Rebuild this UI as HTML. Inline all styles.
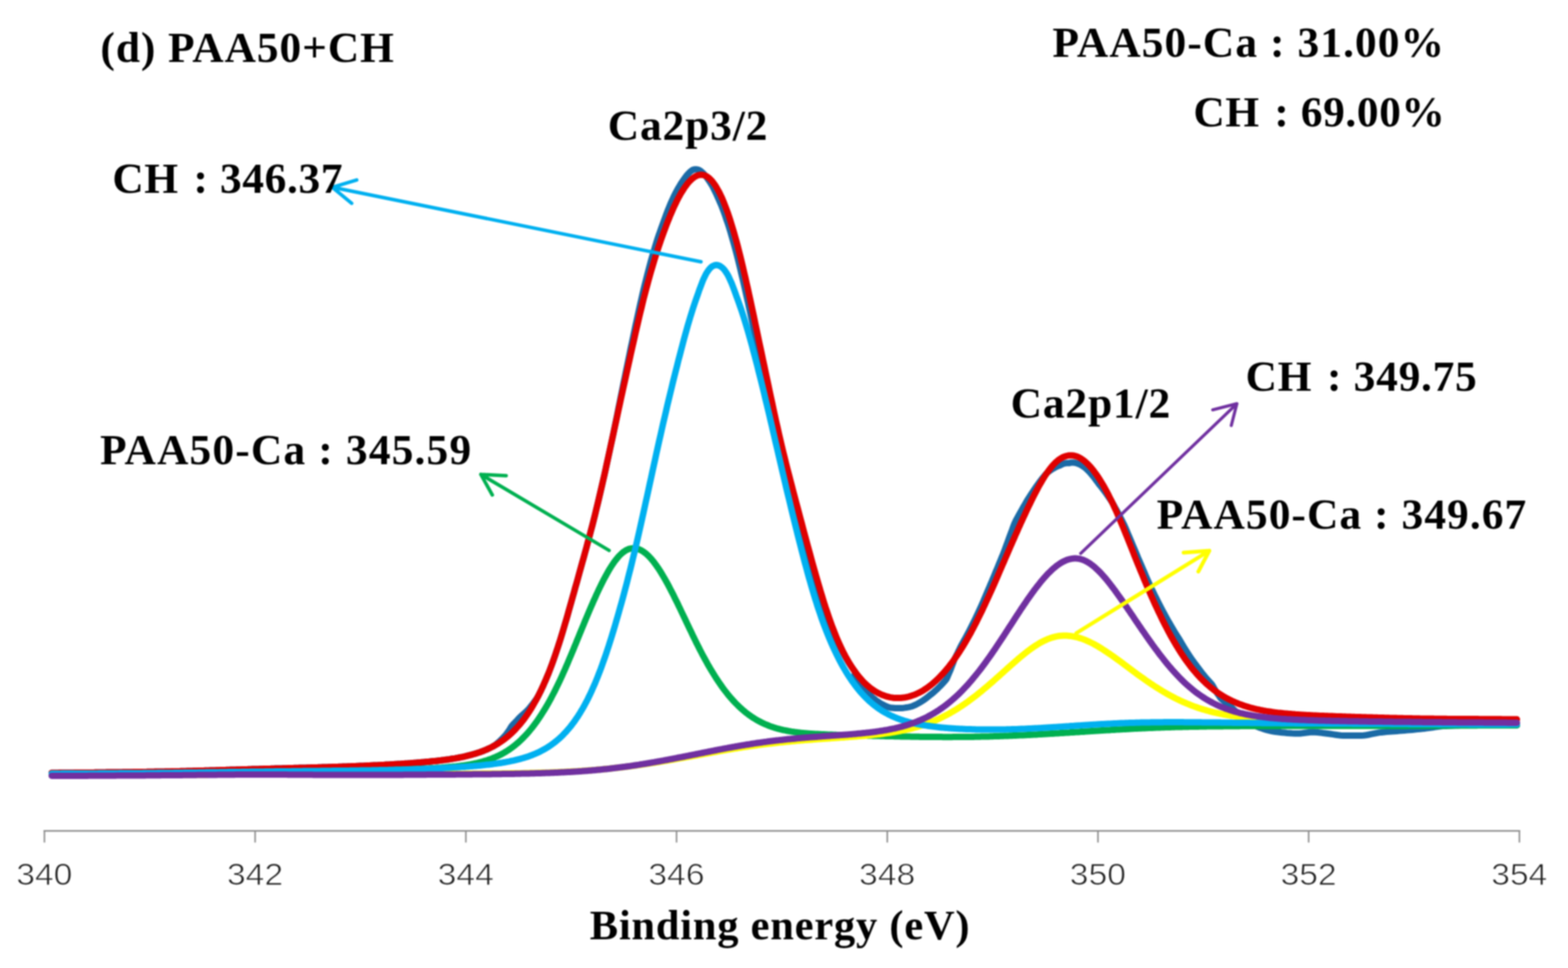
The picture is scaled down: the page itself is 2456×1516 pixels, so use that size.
<!DOCTYPE html>
<html><head><meta charset="utf-8"><title>XPS Ca2p PAA50+CH</title>
<style>html,body{margin:0;padding:0;background:#fff;overflow:hidden;}svg{display:block;filter:blur(0.9px);}</style></head>
<body><svg width="2456" height="1516" viewBox="0 0 2456 1516">
<rect width="2456" height="1516" fill="#ffffff"/>
<g fill="none" stroke-width="10" stroke-linecap="round" stroke-linejoin="round">
<path d="M81.0,1210.4 L83.0,1210.4 L85.0,1210.4 L87.0,1210.4 L89.0,1210.4 L91.0,1210.4 L93.0,1210.3 L95.0,1210.3 L97.0,1210.3 L99.0,1210.3 L101.0,1210.3 L103.0,1210.3 L105.0,1210.2 L107.0,1210.2 L109.0,1210.2 L111.0,1210.2 L113.0,1210.2 L115.0,1210.2 L117.0,1210.1 L119.0,1210.1 L121.0,1210.1 L123.0,1210.1 L125.0,1210.1 L127.0,1210.1 L129.0,1210.0 L131.0,1210.0 L133.0,1210.0 L135.0,1210.0 L137.0,1210.0 L139.0,1209.9 L141.0,1209.9 L143.0,1209.9 L145.0,1209.9 L147.0,1209.9 L149.0,1209.8 L151.0,1209.8 L153.0,1209.8 L155.0,1209.8 L157.0,1209.8 L159.0,1209.7 L161.0,1209.7 L163.0,1209.7 L165.0,1209.7 L167.0,1209.6 L169.0,1209.6 L171.0,1209.6 L173.0,1209.6 L175.0,1209.6 L177.0,1209.5 L179.0,1209.5 L181.0,1209.5 L183.0,1209.5 L185.0,1209.4 L187.0,1209.4 L189.0,1209.4 L191.0,1209.4 L193.0,1209.3 L195.0,1209.3 L197.0,1209.3 L199.0,1209.3 L201.0,1209.2 L203.0,1209.2 L205.0,1209.2 L207.0,1209.2 L209.0,1209.1 L211.0,1209.1 L213.0,1209.1 L215.0,1209.1 L217.0,1209.0 L219.0,1209.0 L221.0,1209.0 L223.0,1208.9 L225.0,1208.9 L227.0,1208.9 L229.0,1208.9 L231.0,1208.8 L233.0,1208.8 L235.0,1208.8 L237.0,1208.7 L239.0,1208.7 L241.0,1208.7 L243.0,1208.6 L245.0,1208.6 L247.0,1208.6 L249.0,1208.5 L251.0,1208.5 L253.0,1208.5 L255.0,1208.4 L257.0,1208.4 L259.0,1208.3 L261.0,1208.3 L263.0,1208.3 L265.0,1208.2 L267.0,1208.2 L269.0,1208.1 L271.0,1208.1 L273.0,1208.1 L275.0,1208.0 L277.0,1208.0 L279.0,1207.9 L281.0,1207.9 L283.0,1207.8 L285.0,1207.8 L287.0,1207.7 L289.0,1207.7 L291.0,1207.7 L293.0,1207.6 L295.0,1207.6 L297.0,1207.5 L299.0,1207.4 L301.0,1207.4 L303.0,1207.3 L305.0,1207.3 L307.0,1207.2 L309.0,1207.2 L311.0,1207.1 L313.0,1207.1 L315.0,1207.0 L317.0,1207.0 L319.0,1206.9 L321.0,1206.8 L323.0,1206.8 L325.0,1206.7 L327.0,1206.7 L329.0,1206.6 L331.0,1206.6 L333.0,1206.5 L335.0,1206.4 L337.0,1206.4 L339.0,1206.3 L341.0,1206.3 L343.0,1206.2 L345.0,1206.1 L347.0,1206.1 L349.0,1206.0 L351.0,1205.9 L353.0,1205.9 L355.0,1205.8 L357.0,1205.8 L359.0,1205.7 L361.0,1205.6 L363.0,1205.6 L365.0,1205.5 L367.0,1205.5 L369.0,1205.4 L371.0,1205.3 L373.0,1205.3 L375.0,1205.2 L377.0,1205.2 L379.0,1205.1 L381.0,1205.0 L383.0,1205.0 L385.0,1204.9 L387.0,1204.9 L389.0,1204.8 L391.0,1204.8 L393.0,1204.7 L395.0,1204.6 L397.0,1204.6 L399.0,1204.5 L401.0,1204.5 L403.0,1204.4 L405.0,1204.4 L407.0,1204.3 L409.0,1204.2 L411.0,1204.2 L413.0,1204.1 L415.0,1204.1 L417.0,1204.0 L419.0,1204.0 L421.0,1203.9 L423.0,1203.9 L425.0,1203.8 L427.0,1203.8 L429.0,1203.7 L431.0,1203.6 L433.0,1203.6 L435.0,1203.5 L437.0,1203.5 L439.0,1203.4 L441.0,1203.4 L443.0,1203.3 L445.0,1203.3 L447.0,1203.2 L449.0,1203.2 L451.0,1203.1 L453.0,1203.1 L455.0,1203.0 L457.0,1203.0 L459.0,1202.9 L461.0,1202.8 L463.0,1202.8 L465.0,1202.7 L467.0,1202.7 L469.0,1202.6 L471.0,1202.6 L473.0,1202.5 L475.0,1202.5 L477.0,1202.4 L479.0,1202.4 L481.0,1202.3 L483.0,1202.3 L485.0,1202.2 L487.0,1202.1 L489.0,1202.1 L491.0,1202.0 L493.0,1202.0 L495.0,1201.9 L496.9,1201.9 L498.9,1201.8 L500.9,1201.7 L502.9,1201.7 L504.9,1201.6 L506.9,1201.6 L508.9,1201.5 L510.9,1201.4 L512.9,1201.4 L514.9,1201.3 L516.9,1201.3 L518.9,1201.2 L520.9,1201.1 L522.9,1201.1 L524.9,1201.0 L526.9,1200.9 L528.9,1200.9 L530.9,1200.8 L532.9,1200.7 L534.9,1200.7 L536.9,1200.6 L538.9,1200.5 L540.9,1200.5 L542.9,1200.4 L544.9,1200.3 L546.9,1200.2 L548.9,1200.2 L550.9,1200.1 L552.9,1200.0 L554.9,1199.9 L556.9,1199.9 L558.9,1199.8 L560.9,1199.7 L562.9,1199.6 L564.9,1199.5 L566.9,1199.4 L568.9,1199.4 L570.9,1199.3 L572.9,1199.2 L574.9,1199.1 L576.9,1199.0 L578.9,1198.9 L580.9,1198.8 L582.9,1198.7 L584.9,1198.6 L586.9,1198.6 L588.9,1198.5 L590.9,1198.4 L592.9,1198.3 L594.9,1198.2 L596.9,1198.1 L598.9,1198.0 L600.9,1197.9 L602.9,1197.7 L604.9,1197.6 L606.9,1197.5 L608.9,1197.4 L610.9,1197.3 L612.9,1197.2 L614.9,1197.1 L616.9,1197.0 L618.9,1196.8 L620.9,1196.7 L622.9,1196.6 L624.9,1196.5 L626.9,1196.4 L628.9,1196.2 L630.9,1196.1 L632.9,1196.0 L634.9,1195.8 L636.9,1195.7 L638.9,1195.6 L640.9,1195.4 L642.9,1195.3 L644.9,1195.1 L646.9,1195.0 L648.9,1194.8 L650.9,1194.7 L652.9,1194.5 L654.9,1194.3 L656.9,1194.2 L658.9,1194.0 L660.9,1193.8 L662.9,1193.7 L664.9,1193.5 L666.9,1193.3 L668.9,1193.1 L670.9,1192.9 L672.9,1192.7 L674.9,1192.5 L676.9,1192.3 L678.9,1192.1 L680.9,1191.9 L682.9,1191.7 L684.9,1191.5 L686.9,1191.2 L689.0,1191.0 L691.0,1190.8 L693.0,1190.5 L695.0,1190.3 L697.0,1190.0 L699.0,1189.7 L701.0,1189.4 L703.0,1189.2 L705.0,1188.9 L707.0,1188.5 L709.0,1188.2 L711.0,1187.9 L713.0,1187.6 L715.0,1187.2 L717.0,1186.9 L719.0,1186.5 L721.0,1186.1 L723.0,1185.7 L725.0,1185.3 L727.0,1184.8 L729.0,1184.4 L731.0,1183.9 L733.0,1183.4 L735.0,1182.9 L737.0,1182.4 L739.0,1181.9 L741.0,1181.3 L743.0,1180.7 L745.0,1180.1 L747.0,1179.5 L749.0,1178.8 L751.0,1178.2 L753.0,1177.5 L755.0,1176.7 L757.0,1176.0 L759.0,1175.2 L761.0,1174.3 L763.0,1173.5 L765.0,1172.5 L767.0,1171.6 L769.0,1170.6 L771.0,1169.6 L773.0,1168.5 L775.0,1167.4 L776.8,1165.9 L778.6,1164.4 L780.4,1162.8 L782.2,1161.2 L783.9,1159.6 L785.6,1157.8 L787.4,1156.1 L789.1,1154.3 L790.8,1152.4 L792.5,1150.5 L794.0,1148.4 L795.6,1146.2 L797.1,1144.0 L798.6,1141.7 L800.0,1139.4 L801.5,1137.0 L803.3,1134.9 L805.3,1132.9 L807.3,1130.8 L809.4,1128.6 L811.4,1126.4 L813.5,1124.0 L815.8,1121.8 L818.4,1119.6 L821.0,1117.3 L823.6,1114.9 L826.2,1112.4 L828.7,1109.7 L831.1,1106.7 L833.5,1103.7 L835.9,1100.5 L838.3,1097.2 L840.7,1093.8 L842.9,1090.2 L844.9,1086.3 L846.9,1082.3 L848.8,1078.2 L850.8,1074.0 L852.7,1069.6 L854.7,1065.1 L856.6,1060.5 L858.6,1055.8 L860.5,1051.0 L862.4,1046.0 L864.3,1040.9 L866.2,1035.7 L868.1,1030.3 L870.0,1024.9 L871.9,1019.2 L873.8,1013.5 L875.7,1007.6 L877.6,1001.7 L879.5,995.5 L881.4,989.3 L883.3,982.9 L885.2,976.4 L887.2,969.8 L889.1,963.1 L891.0,956.2 L893.0,949.2 L895.0,942.1 L897.0,934.9 L899.1,927.6 L901.1,920.1 L903.3,912.6 L905.4,905.0 L907.5,897.2 L909.7,889.3 L911.9,881.4 L914.2,873.3 L916.4,865.2 L918.7,857.0 L920.9,848.6 L923.2,840.2 L925.4,831.7 L927.7,823.1 L929.9,814.4 L932.1,805.7 L934.2,796.9 L936.4,788.0 L938.5,779.0 L940.6,770.0 L942.7,761.0 L944.8,751.9 L946.9,742.8 L948.9,733.6 L950.9,724.4 L952.9,715.2 L954.9,706.0 L956.9,696.8 L958.9,687.6 L960.9,678.1 L962.9,668.3 L964.9,658.5 L966.9,648.7 L968.8,638.9 L970.8,629.2 L972.7,619.6 L974.7,610.0 L976.6,600.5 L978.6,591.0 L980.5,581.6 L982.4,572.4 L984.3,563.2 L986.2,554.1 L988.0,545.1 L989.9,536.2 L991.8,527.4 L993.6,518.7 L995.4,510.1 L997.3,501.7 L999.1,493.3 L1000.9,485.0 L1002.7,476.8 L1004.6,468.7 L1006.4,460.7 L1008.2,452.9 L1010.1,445.2 L1012.0,437.6 L1013.9,430.2 L1015.8,422.9 L1017.7,415.7 L1019.6,408.6 L1021.6,401.7 L1023.6,394.9 L1025.5,388.3 L1027.5,381.7 L1029.5,375.3 L1031.5,369.2 L1033.6,363.4 L1035.6,357.6 L1037.6,352.1 L1039.6,346.6 L1041.7,341.0 L1043.7,335.5 L1045.7,330.2 L1047.8,325.0 L1049.8,320.0 L1051.9,315.4 L1053.9,311.0 L1055.9,306.7 L1058.0,302.6 L1060.0,298.7 L1062.1,295.0 L1064.2,291.4 L1066.2,288.1 L1068.3,284.9 L1070.4,281.9 L1072.4,279.0 L1074.5,276.2 L1076.5,273.7 L1078.6,271.5 L1080.6,269.4 L1082.7,267.7 L1084.7,266.2 L1086.8,265.5 L1088.8,265.3 L1090.8,265.3 L1092.9,265.6 L1094.9,266.2 L1097.0,267.5 L1099.0,269.1 L1101.1,271.0 L1103.1,273.1 L1105.2,275.5 L1107.2,278.2 L1109.2,281.1 L1111.3,284.1 L1113.3,287.3 L1115.4,290.7 L1117.4,294.4 L1119.4,298.4 L1121.5,302.7 L1123.5,307.2 L1125.6,311.8 L1127.6,316.5 L1129.7,321.3 L1131.7,326.5 L1133.7,331.8 L1135.7,337.4 L1137.7,343.3 L1139.8,349.3 L1141.8,355.6 L1143.8,362.0 L1145.7,368.7 L1147.7,375.6 L1149.7,382.7 L1151.7,390.0 L1153.7,397.6 L1155.7,405.3 L1157.6,413.2 L1159.6,421.3 L1161.5,429.5 L1163.5,437.8 L1165.4,446.2 L1167.4,454.8 L1169.3,463.5 L1171.3,472.2 L1173.2,481.0 L1175.2,489.9 L1177.1,498.9 L1179.1,508.0 L1181.1,517.0 L1183.0,526.2 L1185.0,535.4 L1187.0,544.6 L1189.0,553.9 L1191.1,563.3 L1193.1,572.7 L1195.1,582.2 L1197.2,591.6 L1199.2,601.1 L1201.3,610.6 L1203.4,620.1 L1205.4,629.5 L1207.5,639.0 L1209.6,648.3 L1211.6,657.7 L1213.7,666.9 L1215.8,676.1 L1218.0,685.2 L1220.1,694.2 L1222.3,703.2 L1224.5,712.0 L1226.7,720.9 L1229.0,729.7 L1231.2,738.4 L1233.5,747.2 L1235.9,755.9 L1238.2,764.5 L1240.5,773.0 L1242.7,781.6 L1245.0,790.0 L1247.2,798.3 L1249.5,806.6 L1251.7,814.7 L1253.8,822.8 L1256.0,830.7 L1258.1,838.5 L1260.2,846.2 L1262.3,853.7 L1264.3,861.2 L1266.4,868.5 L1268.4,875.6 L1270.4,882.7 L1272.3,889.6 L1274.3,896.4 L1276.2,903.1 L1278.1,909.6 L1280.0,916.0 L1281.9,922.3 L1283.8,928.4 L1285.6,934.4 L1287.5,940.3 L1289.3,946.0 L1291.1,951.6 L1292.9,957.0 L1294.8,962.4 L1296.6,967.6 L1298.4,972.6 L1300.2,977.5 L1302.0,982.2 L1303.8,986.7 L1305.7,991.1 L1307.5,995.4 L1309.3,999.5 L1311.1,1003.6 L1313.0,1007.6 L1314.8,1011.4 L1316.7,1015.1 L1318.5,1018.8 L1320.4,1022.3 L1322.3,1025.7 L1324.1,1029.0 L1326.0,1032.2 L1327.9,1035.3 L1329.8,1038.4 L1331.7,1041.3 L1333.6,1044.1 L1335.5,1046.8 L1337.4,1049.5 L1339.3,1052.0 L1338.6,1056.5 L1340.2,1059.3 L1341.8,1062.1 L1343.4,1064.7 L1345.1,1067.3 L1346.8,1069.8 L1348.5,1072.2 L1350.2,1074.6 L1352.0,1076.9 L1353.8,1079.1 L1355.6,1081.3 L1357.4,1083.4 L1359.3,1085.4 L1361.2,1087.4 L1363.1,1089.2 L1365.1,1091.1 L1367.1,1092.8 L1369.2,1094.5 L1371.3,1096.2 L1373.4,1097.7 L1375.6,1099.2 L1377.8,1100.7 L1380.0,1102.0 L1382.3,1103.3 L1384.6,1104.5 L1387.0,1105.7 L1389.4,1106.7 L1391.8,1107.7 L1394.4,1108.2 L1396.9,1108.6 L1399.5,1108.8 L1402.0,1109.0 L1404.6,1109.1 L1407.2,1109.1 L1409.7,1109.1 L1412.2,1108.9 L1414.8,1108.7 L1417.3,1108.4 L1419.8,1108.0 L1422.3,1107.6 L1424.8,1107.1 L1427.3,1106.5 L1429.8,1105.7 L1432.1,1104.7 L1434.5,1103.6 L1436.8,1102.4 L1439.0,1101.2 L1441.3,1099.9 L1443.5,1098.5 L1445.7,1097.1 L1447.8,1095.6 L1450.0,1094.1 L1452.1,1092.5 L1454.1,1090.8 L1456.2,1089.1 L1458.3,1087.5 L1460.4,1085.8 L1462.5,1084.1 L1464.5,1082.3 L1466.6,1080.4 L1468.6,1078.5 L1470.6,1076.5 L1472.7,1074.5 L1474.7,1072.4 L1476.6,1070.3 L1478.6,1068.1 L1480.6,1065.9 L1482.5,1063.5 L1483.8,1060.6 L1485.1,1057.6 L1486.4,1054.6 L1487.7,1051.6 L1489.0,1048.5 L1490.2,1045.3 L1491.4,1042.1 L1492.6,1038.9 L1493.8,1035.6 L1495.0,1032.3 L1496.6,1029.2 L1498.2,1026.1 L1499.8,1022.9 L1501.3,1019.7 L1502.9,1016.4 L1504.5,1013.0 L1506.2,1009.7 L1508.1,1006.4 L1510.0,1003.0 L1511.9,999.6 L1513.8,996.2 L1515.7,992.6 L1517.6,989.0 L1519.5,985.3 L1521.4,981.6 L1523.3,977.8 L1525.2,974.0 L1527.1,970.1 L1529.0,966.1 L1530.9,962.1 L1532.8,958.0 L1534.7,953.9 L1536.6,949.7 L1538.5,945.4 L1540.4,941.2 L1542.2,936.8 L1544.1,932.4 L1546.0,928.0 L1547.9,923.6 L1549.8,919.1 L1551.7,914.5 L1553.7,910.0 L1555.6,905.4 L1557.5,900.8 L1559.4,896.1 L1561.4,891.5 L1563.3,886.8 L1565.2,882.1 L1567.2,877.3 L1569.1,872.6 L1571.1,867.9 L1573.0,863.1 L1574.7,858.3 L1576.5,853.5 L1578.3,848.6 L1580.0,843.8 L1581.8,839.0 L1583.6,834.2 L1585.4,829.5 L1587.1,824.7 L1588.9,820.0 L1591.0,815.5 L1593.4,811.1 L1595.8,806.8 L1598.2,802.5 L1600.5,798.3 L1602.9,794.1 L1605.3,790.0 L1607.6,785.9 L1610.0,781.9 L1612.4,778.1 L1614.9,774.3 L1617.3,770.6 L1619.7,767.0 L1622.1,763.4 L1624.6,760.0 L1627.0,756.7 L1629.3,753.5 L1631.7,750.4 L1634.1,747.4 L1636.4,744.6 L1638.8,741.9 L1641.3,739.5 L1644.1,737.4 L1646.9,735.5 L1649.6,733.8 L1652.2,732.3 L1654.8,731.0 L1657.4,729.9 L1659.9,729.0 L1661.9,728.0 L1663.8,727.0 L1665.7,726.3 L1667.5,725.8 L1669.1,725.4 L1670.7,725.3 L1672.2,725.2 L1673.6,725.3 L1674.8,725.3 L1675.9,724.9 L1677.1,724.6 L1678.3,724.4 L1679.5,724.4 L1680.9,724.4 L1682.3,724.5 L1683.8,724.8 L1685.4,725.3 L1687.2,725.8 L1689.1,726.4 L1691.1,727.3 L1693.1,728.3 L1695.3,729.6 L1697.4,731.0 L1699.7,732.6 L1701.8,734.6 L1704.0,736.7 L1706.1,738.9 L1708.3,741.3 L1710.5,743.9 L1712.7,746.6 L1714.9,749.5 L1717.1,752.5 L1719.4,755.6 L1721.7,758.8 L1724.3,761.9 L1726.9,765.2 L1729.4,768.6 L1732.0,772.1 L1734.6,775.7 L1737.1,779.4 L1739.7,783.2 L1742.2,787.1 L1744.5,791.2 L1746.8,795.4 L1749.2,799.6 L1751.5,803.8 L1753.7,808.2 L1756.0,812.5 L1758.3,817.0 L1760.5,821.4 L1762.6,826.0 L1764.6,830.7 L1766.5,835.3 L1768.5,840.0 L1770.5,844.7 L1772.5,849.4 L1774.4,854.1 L1776.4,858.8 L1778.4,863.5 L1780.4,868.2 L1782.3,872.9 L1784.3,877.5 L1786.3,882.2 L1788.3,886.8 L1790.3,891.5 L1792.3,896.1 L1794.2,900.6 L1796.2,905.2 L1798.2,909.7 L1800.2,914.2 L1802.2,918.6 L1804.2,923.0 L1806.3,927.3 L1808.4,931.6 L1810.5,935.8 L1812.6,940.0 L1814.7,944.2 L1816.8,948.3 L1818.9,952.3 L1821.0,956.3 L1823.1,960.2 L1825.2,964.1 L1827.3,967.9 L1829.4,971.6 L1831.5,975.3 L1833.6,979.0 L1835.7,982.6 L1837.8,986.1 L1839.8,989.5 L1841.9,992.9 L1844.0,996.2 L1846.1,999.5 L1848.1,1002.7 L1850.0,1005.9 L1851.8,1009.1 L1853.7,1012.2 L1855.5,1015.3 L1857.4,1018.3 L1859.3,1021.2 L1861.1,1024.1 L1863.0,1026.9 L1864.8,1029.7 L1866.7,1032.4 L1868.6,1035.0 L1870.4,1037.5 L1872.3,1040.0 L1874.2,1042.5 L1876.0,1044.9 L1877.8,1047.3 L1879.5,1049.7 L1881.3,1052.0 L1883.0,1054.3 L1884.8,1056.5 L1886.6,1058.7 L1888.3,1060.8 L1890.1,1062.8 L1891.9,1064.8 L1893.7,1066.8 L1895.4,1068.7 L1897.2,1070.6 L1898.8,1072.7 L1900.2,1075.1 L1901.5,1077.5 L1902.9,1079.8 L1904.3,1082.1 L1905.7,1084.4 L1907.2,1086.6 L1908.7,1088.8 L1910.2,1091.0 L1911.8,1093.2 L1913.5,1095.0 L1915.4,1096.6 L1917.3,1098.1 L1919.2,1099.6 L1921.1,1101.1 L1923.1,1102.5 L1925.0,1103.9 L1928.0,1106.7 L1932.0,1110.8 L1936.0,1114.7 L1940.0,1118.4 L1944.0,1121.8 L1948.0,1125.1 L1952.0,1128.1 L1956.0,1130.9 L1960.0,1133.4 L1964.0,1135.6 L1968.0,1137.6 L1972.0,1139.2 L1976.0,1140.6 L1980.0,1141.9 L1984.0,1143.1 L1988.0,1144.1 L1992.0,1145.0 L1996.0,1145.7 L2000.0,1146.3 L2004.0,1146.8 L2008.0,1147.2 L2012.0,1147.6 L2016.0,1148.0 L2020.0,1148.3 L2024.0,1148.6 L2028.0,1148.7 L2032.0,1148.8 L2036.0,1148.7 L2040.0,1148.3 L2044.0,1147.8 L2048.0,1147.3 L2052.0,1146.8 L2056.0,1146.6 L2060.0,1146.7 L2064.0,1147.0 L2068.0,1147.4 L2072.0,1148.0 L2076.0,1148.5 L2080.0,1149.0 L2084.0,1149.5 L2088.0,1150.1 L2092.0,1150.7 L2096.0,1151.3 L2100.0,1151.7 L2104.0,1152.0 L2108.0,1152.0 L2112.0,1152.0 L2116.0,1152.0 L2120.0,1152.0 L2124.0,1152.0 L2128.0,1152.0 L2132.0,1152.0 L2136.0,1151.7 L2140.0,1151.2 L2144.0,1150.5 L2148.0,1149.7 L2152.0,1148.9 L2156.0,1148.1 L2160.0,1147.4 L2164.0,1146.9 L2168.0,1146.5 L2172.0,1146.1 L2176.0,1145.8 L2180.0,1145.5 L2184.0,1145.2 L2188.0,1144.9 L2192.0,1144.6 L2196.0,1144.2 L2200.0,1143.9 L2204.0,1143.6 L2208.0,1143.2 L2212.0,1142.9 L2216.0,1142.5 L2220.0,1142.1 L2224.0,1141.7 L2228.0,1141.3 L2232.0,1140.9 L2236.0,1140.4 L2240.0,1139.8 L2244.0,1139.2 L2248.0,1138.6 L2252.0,1138.0 L2256.0,1137.5 L2260.0,1137.1 L2264.0,1136.9 L2268.0,1136.7 L2272.0,1136.6 L2276.0,1136.4 L2280.0,1136.3 L2284.0,1136.2 L2288.0,1136.1 L2292.0,1136.1 L2296.0,1136.0 L2300.0,1136.0 L2304.0,1136.0 L2308.0,1136.0 L2312.0,1136.0 L2316.0,1136.0 L2320.0,1136.0 L2324.0,1136.0 L2328.0,1136.0 L2332.0,1136.0 L2336.0,1136.0 L2340.0,1136.0 L2344.0,1136.0 L2348.0,1136.0 L2352.0,1136.0 L2356.0,1136.0 L2360.0,1136.0 L2364.0,1136.0 L2368.0,1136.0 L2372.0,1136.0 L2376.0,1136.0" stroke="#1a6aa6"/>
<path d="M81.0,1210.4 L83.0,1210.4 L85.0,1210.4 L87.0,1210.4 L89.0,1210.4 L91.0,1210.4 L93.0,1210.3 L95.0,1210.3 L97.0,1210.3 L99.0,1210.3 L101.0,1210.3 L103.0,1210.3 L105.0,1210.2 L107.0,1210.2 L109.0,1210.2 L111.0,1210.2 L113.0,1210.2 L115.0,1210.2 L117.0,1210.1 L119.0,1210.1 L121.0,1210.1 L123.0,1210.1 L125.0,1210.1 L127.0,1210.1 L129.0,1210.0 L131.0,1210.0 L133.0,1210.0 L135.0,1210.0 L137.0,1210.0 L139.0,1209.9 L141.0,1209.9 L143.0,1209.9 L145.0,1209.9 L147.0,1209.9 L149.0,1209.8 L151.0,1209.8 L153.0,1209.8 L155.0,1209.8 L157.0,1209.8 L159.0,1209.7 L161.0,1209.7 L163.0,1209.7 L165.0,1209.7 L167.0,1209.6 L169.0,1209.6 L171.0,1209.6 L173.0,1209.6 L175.0,1209.6 L177.0,1209.5 L179.0,1209.5 L181.0,1209.5 L183.0,1209.5 L185.0,1209.4 L187.0,1209.4 L189.0,1209.4 L191.0,1209.4 L193.0,1209.3 L195.0,1209.3 L197.0,1209.3 L199.0,1209.3 L201.0,1209.2 L203.0,1209.2 L205.0,1209.2 L207.0,1209.2 L209.0,1209.1 L211.0,1209.1 L213.0,1209.1 L215.0,1209.1 L217.0,1209.0 L219.0,1209.0 L221.0,1209.0 L223.0,1208.9 L225.0,1208.9 L227.0,1208.9 L229.0,1208.9 L231.0,1208.8 L233.0,1208.8 L235.0,1208.8 L237.0,1208.7 L239.0,1208.7 L241.0,1208.7 L243.0,1208.6 L245.0,1208.6 L247.0,1208.6 L249.0,1208.5 L251.0,1208.5 L253.0,1208.5 L255.0,1208.4 L257.0,1208.4 L259.0,1208.3 L261.0,1208.3 L263.0,1208.3 L265.0,1208.2 L267.0,1208.2 L269.0,1208.1 L271.0,1208.1 L273.0,1208.1 L275.0,1208.0 L277.0,1208.0 L279.0,1207.9 L281.0,1207.9 L283.0,1207.8 L285.0,1207.8 L287.0,1207.7 L289.0,1207.7 L291.0,1207.7 L293.0,1207.6 L295.0,1207.6 L297.0,1207.5 L299.0,1207.4 L301.0,1207.4 L303.0,1207.3 L305.0,1207.3 L307.0,1207.2 L309.0,1207.2 L311.0,1207.1 L313.0,1207.1 L315.0,1207.0 L317.0,1207.0 L319.0,1206.9 L321.0,1206.8 L323.0,1206.8 L325.0,1206.7 L327.0,1206.7 L329.0,1206.6 L331.0,1206.6 L333.0,1206.5 L335.0,1206.4 L337.0,1206.4 L339.0,1206.3 L341.0,1206.3 L343.0,1206.2 L345.0,1206.1 L347.0,1206.1 L349.0,1206.0 L351.0,1205.9 L353.0,1205.9 L355.0,1205.8 L357.0,1205.8 L359.0,1205.7 L361.0,1205.6 L363.0,1205.6 L365.0,1205.5 L367.0,1205.5 L369.0,1205.4 L371.0,1205.3 L373.0,1205.3 L375.0,1205.2 L377.0,1205.2 L379.0,1205.1 L381.0,1205.0 L383.0,1205.0 L385.0,1204.9 L387.0,1204.9 L389.0,1204.8 L391.0,1204.8 L393.0,1204.7 L395.0,1204.6 L397.0,1204.6 L399.0,1204.5 L401.0,1204.5 L403.0,1204.4 L405.0,1204.4 L407.0,1204.3 L409.0,1204.2 L411.0,1204.2 L413.0,1204.1 L415.0,1204.1 L417.0,1204.0 L419.0,1204.0 L421.0,1203.9 L423.0,1203.9 L425.0,1203.8 L427.0,1203.8 L429.0,1203.7 L431.0,1203.6 L433.0,1203.6 L435.0,1203.5 L437.0,1203.5 L439.0,1203.4 L441.0,1203.4 L443.0,1203.3 L445.0,1203.3 L447.0,1203.2 L449.0,1203.2 L451.0,1203.1 L453.0,1203.1 L455.0,1203.0 L457.0,1203.0 L459.0,1202.9 L461.0,1202.8 L463.0,1202.8 L465.0,1202.7 L467.0,1202.7 L469.0,1202.6 L471.0,1202.6 L473.0,1202.5 L475.0,1202.5 L477.0,1202.4 L479.0,1202.4 L481.0,1202.3 L483.0,1202.3 L485.0,1202.2 L487.0,1202.1 L489.0,1202.1 L491.0,1202.0 L493.0,1202.0 L495.0,1201.9 L496.9,1201.9 L498.9,1201.8 L500.9,1201.7 L502.9,1201.7 L504.9,1201.6 L506.9,1201.6 L508.9,1201.5 L510.9,1201.4 L512.9,1201.4 L514.9,1201.3 L516.9,1201.3 L518.9,1201.2 L520.9,1201.1 L522.9,1201.1 L524.9,1201.0 L526.9,1200.9 L528.9,1200.9 L530.9,1200.8 L532.9,1200.7 L534.9,1200.7 L536.9,1200.6 L538.9,1200.5 L540.9,1200.5 L542.9,1200.4 L544.9,1200.3 L546.9,1200.2 L548.9,1200.2 L550.9,1200.1 L552.9,1200.0 L554.9,1199.9 L556.9,1199.9 L558.9,1199.8 L560.9,1199.7 L562.9,1199.6 L564.9,1199.5 L566.9,1199.4 L568.9,1199.4 L570.9,1199.3 L572.9,1199.2 L574.9,1199.1 L576.9,1199.0 L578.9,1198.9 L580.9,1198.8 L582.9,1198.7 L584.9,1198.6 L586.9,1198.6 L588.9,1198.5 L590.9,1198.4 L592.9,1198.3 L594.9,1198.2 L596.9,1198.1 L598.9,1198.0 L600.9,1197.9 L602.9,1197.7 L604.9,1197.6 L606.9,1197.5 L608.9,1197.4 L610.9,1197.3 L612.9,1197.2 L614.9,1197.1 L616.9,1197.0 L618.9,1196.8 L620.9,1196.7 L622.9,1196.6 L624.9,1196.5 L626.9,1196.4 L628.9,1196.2 L630.9,1196.1 L632.9,1196.0 L634.9,1195.8 L636.9,1195.7 L638.9,1195.6 L640.9,1195.4 L642.9,1195.3 L644.9,1195.1 L646.9,1195.0 L648.9,1194.8 L650.9,1194.7 L652.9,1194.5 L654.9,1194.3 L656.9,1194.2 L658.9,1194.0 L660.9,1193.8 L662.9,1193.7 L664.9,1193.5 L666.9,1193.3 L668.9,1193.1 L670.9,1192.9 L672.9,1192.7 L674.9,1192.5 L676.9,1192.3 L678.9,1192.1 L680.9,1191.9 L682.9,1191.7 L684.9,1191.5 L686.9,1191.2 L689.0,1191.0 L691.0,1190.8 L693.0,1190.5 L695.0,1190.3 L697.0,1190.0 L699.0,1189.7 L701.0,1189.4 L703.0,1189.2 L705.0,1188.9 L707.0,1188.5 L709.0,1188.2 L711.0,1187.9 L713.0,1187.6 L715.0,1187.2 L717.0,1186.9 L719.0,1186.5 L721.0,1186.1 L723.0,1185.7 L725.0,1185.3 L727.0,1184.8 L729.0,1184.4 L731.0,1183.9 L733.0,1183.4 L735.0,1182.9 L737.0,1182.4 L739.0,1181.9 L741.0,1181.3 L743.0,1180.7 L745.0,1180.1 L747.0,1179.5 L749.0,1178.8 L751.0,1178.2 L753.0,1177.5 L755.0,1176.7 L757.0,1176.0 L759.0,1175.2 L761.0,1174.3 L763.0,1173.5 L765.0,1172.5 L767.0,1171.6 L769.0,1170.6 L771.0,1169.6 L773.0,1168.5 L775.0,1167.4 L777.0,1166.3 L779.0,1165.1 L781.0,1163.9 L783.0,1162.6 L785.0,1161.2 L787.0,1159.8 L789.1,1158.4 L791.1,1156.8 L793.1,1155.3 L795.1,1153.6 L797.1,1151.9 L799.1,1150.2 L801.1,1148.3 L803.1,1146.4 L805.1,1144.4 L807.1,1142.4 L809.1,1140.2 L811.1,1138.0 L813.1,1135.7 L815.1,1133.4 L817.1,1130.9 L819.1,1128.4 L821.1,1125.7 L823.1,1123.0 L825.1,1120.2 L827.1,1117.2 L829.1,1114.2 L831.1,1111.1 L833.0,1107.9 L835.0,1104.6 L837.0,1101.1 L839.0,1097.6 L841.0,1093.9 L842.9,1090.2 L844.9,1086.3 L846.9,1082.3 L848.8,1078.2 L850.8,1074.0 L852.7,1069.6 L854.7,1065.1 L856.6,1060.5 L858.6,1055.8 L860.5,1051.0 L862.4,1046.0 L864.3,1040.9 L866.2,1035.7 L868.1,1030.3 L870.0,1024.9 L871.9,1019.2 L873.8,1013.5 L875.7,1007.6 L877.6,1001.7 L879.5,995.5 L881.4,989.3 L883.3,982.9 L885.2,976.4 L887.2,969.8 L889.1,963.1 L891.0,956.2 L893.0,949.2 L895.0,942.1 L897.0,934.9 L899.1,927.6 L901.1,920.1 L903.3,912.6 L905.4,905.0 L907.5,897.2 L909.7,889.3 L911.9,881.4 L914.2,873.3 L916.4,865.2 L918.7,857.0 L920.9,848.6 L923.2,840.2 L925.4,831.7 L927.7,823.1 L929.9,814.4 L932.1,805.7 L934.2,796.9 L936.4,788.0 L938.5,779.0 L940.6,770.0 L942.7,761.0 L944.8,751.9 L946.9,742.8 L948.9,733.6 L950.9,724.4 L952.9,715.2 L954.9,706.0 L956.9,696.8 L958.9,687.6 L960.9,678.5 L962.9,669.3 L964.9,660.1 L966.9,651.0 L968.8,642.0 L970.8,632.9 L972.7,623.9 L974.7,615.0 L976.6,606.1 L978.6,597.3 L980.5,588.6 L982.4,580.0 L984.3,571.4 L986.2,562.9 L988.0,554.5 L989.9,546.2 L991.8,537.9 L993.6,529.8 L995.4,521.7 L997.3,513.7 L999.1,505.8 L1000.9,498.0 L1002.7,490.3 L1004.6,482.7 L1006.4,475.2 L1008.2,467.7 L1010.1,460.4 L1012.0,453.2 L1013.9,446.1 L1015.8,439.0 L1017.7,432.1 L1019.6,425.3 L1021.6,418.7 L1023.6,412.1 L1025.5,405.6 L1027.5,399.3 L1029.5,393.0 L1031.5,386.9 L1033.6,380.9 L1035.6,375.0 L1037.6,369.3 L1039.6,363.7 L1041.7,358.2 L1043.7,352.8 L1045.7,347.6 L1047.8,342.5 L1049.8,337.5 L1051.9,332.7 L1053.9,328.0 L1055.9,323.5 L1058.0,319.2 L1060.0,315.0 L1062.1,310.9 L1064.2,307.1 L1066.2,303.4 L1068.3,300.0 L1070.4,296.7 L1072.4,293.6 L1074.5,290.7 L1076.5,288.0 L1078.6,285.5 L1080.6,283.3 L1082.7,281.3 L1084.7,279.5 L1086.8,277.9 L1088.8,276.6 L1090.8,275.5 L1092.9,274.6 L1094.9,274.1 L1097.0,273.8 L1099.0,273.7 L1101.1,274.0 L1103.1,274.5 L1105.2,275.3 L1107.2,276.4 L1109.2,277.8 L1111.3,279.5 L1113.3,281.5 L1115.4,283.7 L1117.4,286.3 L1119.4,289.1 L1121.5,292.3 L1123.5,295.7 L1125.6,299.4 L1127.6,303.3 L1129.7,307.6 L1131.7,312.1 L1133.7,316.9 L1135.7,322.0 L1137.7,327.3 L1139.8,332.9 L1141.8,338.8 L1143.8,344.9 L1145.7,351.2 L1147.7,357.7 L1149.7,364.5 L1151.7,371.5 L1153.7,378.7 L1155.7,386.1 L1157.6,393.7 L1159.6,401.5 L1161.5,409.5 L1163.5,417.7 L1165.4,426.0 L1167.4,434.4 L1169.3,443.0 L1171.3,451.7 L1173.2,460.6 L1175.2,469.6 L1177.1,478.6 L1179.1,487.8 L1181.1,497.1 L1183.0,506.4 L1185.0,515.8 L1187.0,525.3 L1189.0,534.9 L1191.1,544.5 L1193.1,554.1 L1195.1,563.7 L1197.2,573.4 L1199.2,583.1 L1201.3,592.8 L1203.4,602.5 L1205.4,612.3 L1207.5,622.0 L1209.6,631.6 L1211.6,641.3 L1213.7,650.9 L1215.8,660.5 L1218.0,670.0 L1220.1,679.5 L1222.3,689.0 L1224.5,698.3 L1226.7,707.6 L1229.0,716.8 L1231.2,726.0 L1233.5,735.0 L1235.9,744.0 L1238.2,752.9 L1240.5,761.7 L1242.7,770.4 L1245.0,779.0 L1247.2,787.5 L1249.5,795.9 L1251.7,804.2 L1253.8,812.3 L1256.0,820.4 L1258.1,828.4 L1260.2,836.2 L1262.3,844.0 L1264.3,851.6 L1266.4,859.1 L1268.4,866.4 L1270.4,873.7 L1272.3,880.8 L1274.3,887.8 L1276.2,894.7 L1278.1,901.4 L1280.0,908.0 L1281.9,914.5 L1283.8,920.8 L1285.6,927.1 L1287.5,933.1 L1289.3,939.1 L1291.1,944.9 L1292.9,950.6 L1294.8,956.1 L1296.6,961.6 L1298.4,966.9 L1300.2,972.0 L1302.0,977.0 L1303.8,981.9 L1305.7,986.7 L1307.5,991.4 L1309.3,995.9 L1311.1,1000.3 L1313.0,1004.5 L1314.8,1008.7 L1316.7,1012.7 L1318.5,1016.6 L1320.4,1020.4 L1322.3,1024.0 L1324.1,1027.6 L1326.0,1031.0 L1327.9,1034.3 L1329.8,1037.5 L1331.7,1040.6 L1333.6,1043.6 L1335.5,1046.5 L1337.4,1049.3 L1339.3,1052.0 L1341.2,1054.5 L1343.1,1057.0 L1345.0,1059.4 L1346.9,1061.7 L1348.9,1063.9 L1350.8,1066.0 L1352.7,1068.1 L1354.7,1070.0 L1356.6,1071.9 L1358.6,1073.6 L1360.6,1075.3 L1362.5,1076.9 L1364.5,1078.4 L1366.5,1079.8 L1368.5,1081.2 L1370.5,1082.5 L1372.5,1083.7 L1374.5,1084.8 L1376.5,1085.9 L1378.5,1086.8 L1380.5,1087.7 L1382.5,1088.6 L1384.6,1089.3 L1386.6,1090.0 L1388.6,1090.6 L1390.7,1091.2 L1392.7,1091.7 L1394.7,1092.1 L1396.8,1092.4 L1398.8,1092.7 L1400.9,1092.9 L1402.9,1093.0 L1405.0,1093.1 L1407.0,1093.1 L1409.1,1093.1 L1411.1,1093.0 L1413.2,1092.8 L1415.2,1092.6 L1417.2,1092.3 L1419.3,1091.9 L1421.3,1091.5 L1423.4,1091.0 L1425.4,1090.4 L1427.4,1089.8 L1429.5,1089.1 L1431.5,1088.4 L1433.5,1087.6 L1435.5,1086.7 L1437.5,1085.8 L1439.5,1084.9 L1441.5,1083.8 L1443.6,1082.7 L1445.6,1081.6 L1447.5,1080.3 L1449.5,1079.0 L1451.5,1077.7 L1453.5,1076.3 L1455.5,1074.8 L1457.5,1073.3 L1459.5,1071.7 L1461.4,1070.1 L1463.4,1068.3 L1465.4,1066.6 L1467.4,1064.7 L1469.3,1062.8 L1471.3,1060.9 L1473.3,1058.8 L1475.2,1056.8 L1477.2,1054.6 L1479.2,1052.4 L1481.2,1050.1 L1483.1,1047.8 L1485.1,1045.4 L1487.1,1042.9 L1489.0,1040.3 L1491.0,1037.7 L1493.0,1035.1 L1495.0,1032.3 L1496.9,1029.5 L1498.9,1026.6 L1500.9,1023.7 L1502.9,1020.7 L1504.8,1017.6 L1506.8,1014.5 L1508.8,1011.3 L1510.8,1008.0 L1512.7,1004.7 L1514.7,1001.3 L1516.7,997.8 L1518.7,994.3 L1520.7,990.7 L1522.6,987.0 L1524.6,983.3 L1526.6,979.5 L1528.6,975.7 L1530.5,971.8 L1532.5,967.8 L1534.5,963.8 L1536.5,959.8 L1538.5,955.7 L1540.4,951.5 L1542.4,947.3 L1544.4,943.0 L1546.4,938.7 L1548.4,934.4 L1550.4,930.0 L1552.4,925.6 L1554.4,921.1 L1556.4,916.6 L1558.4,912.1 L1560.4,907.5 L1562.4,902.9 L1564.4,898.3 L1566.4,893.6 L1568.4,889.0 L1570.4,884.3 L1572.5,879.6 L1574.5,874.9 L1576.5,870.2 L1578.6,865.5 L1580.6,860.8 L1582.6,856.1 L1584.7,851.4 L1586.7,846.8 L1588.8,842.1 L1590.8,837.4 L1592.9,832.8 L1594.9,828.2 L1597.0,823.7 L1599.0,819.1 L1601.1,814.6 L1603.1,810.2 L1605.2,805.8 L1607.2,801.4 L1609.2,797.1 L1611.3,792.8 L1613.3,788.7 L1615.3,784.5 L1617.3,780.5 L1619.3,776.5 L1621.3,772.6 L1623.3,768.8 L1625.3,765.1 L1627.2,761.5 L1629.2,758.0 L1631.2,754.6 L1633.1,751.3 L1635.1,748.1 L1637.0,745.0 L1639.0,742.0 L1640.9,739.2 L1642.9,736.5 L1644.8,733.9 L1646.8,731.5 L1648.7,729.2 L1650.7,727.0 L1652.7,725.0 L1654.6,723.2 L1656.6,721.5 L1658.6,719.9 L1660.6,718.5 L1662.6,717.3 L1664.6,716.2 L1666.7,715.3 L1668.7,714.6 L1670.8,714.0 L1672.8,713.5 L1674.9,713.3 L1677.0,713.2 L1679.1,713.3 L1681.3,713.5 L1683.4,713.9 L1685.5,714.6 L1687.7,715.3 L1689.8,716.3 L1692.0,717.4 L1694.1,718.7 L1696.2,720.2 L1698.4,721.9 L1700.5,723.7 L1702.6,725.6 L1704.7,727.7 L1706.9,730.0 L1709.0,732.4 L1711.1,734.9 L1713.2,737.6 L1715.3,740.4 L1717.4,743.3 L1719.5,746.4 L1721.6,749.6 L1723.7,752.9 L1725.8,756.3 L1727.9,759.8 L1730.0,763.5 L1732.0,767.2 L1734.1,771.0 L1736.1,774.9 L1738.1,778.9 L1740.2,783.0 L1742.2,787.2 L1744.2,791.4 L1746.1,795.7 L1748.1,800.0 L1750.1,804.5 L1752.0,808.9 L1754.0,813.4 L1755.9,818.0 L1757.8,822.6 L1759.7,827.2 L1761.6,831.9 L1763.5,836.5 L1765.4,841.2 L1767.3,845.9 L1769.2,850.7 L1771.1,855.4 L1773.0,860.1 L1774.9,864.9 L1776.7,869.6 L1778.6,874.3 L1780.5,879.1 L1782.4,883.8 L1784.3,888.4 L1786.2,893.1 L1788.2,897.8 L1790.1,902.4 L1792.0,907.0 L1793.9,911.5 L1795.8,916.0 L1797.7,920.5 L1799.7,925.0 L1801.6,929.4 L1803.5,933.8 L1805.5,938.1 L1807.4,942.4 L1809.3,946.6 L1811.3,950.8 L1813.2,955.0 L1815.1,959.1 L1817.1,963.1 L1819.0,967.1 L1820.9,971.0 L1822.9,974.9 L1824.8,978.7 L1826.8,982.5 L1828.7,986.2 L1830.6,989.9 L1832.6,993.5 L1834.5,997.0 L1836.5,1000.5 L1838.4,1003.9 L1840.4,1007.2 L1842.3,1010.5 L1844.3,1013.7 L1846.2,1016.9 L1848.2,1020.0 L1850.1,1023.0 L1852.1,1026.0 L1854.1,1028.9 L1856.0,1031.8 L1858.0,1034.6 L1860.0,1037.3 L1862.0,1039.9 L1863.9,1042.5 L1865.9,1045.1 L1867.9,1047.6 L1869.9,1050.0 L1871.9,1052.3 L1873.9,1054.6 L1875.9,1056.9 L1877.9,1059.1 L1879.9,1061.2 L1881.9,1063.3 L1883.9,1065.3 L1885.9,1067.2 L1887.9,1069.1 L1889.9,1071.0 L1891.9,1072.8 L1893.9,1074.5 L1895.9,1076.2 L1898.0,1077.8 L1900.0,1079.4 L1902.0,1081.0 L1904.0,1082.5 L1906.0,1083.9 L1908.1,1085.3 L1910.1,1086.7 L1912.1,1088.0 L1914.2,1089.3 L1916.2,1090.5 L1918.2,1091.7 L1920.2,1092.8 L1922.3,1093.9 L1924.3,1095.0 L1926.3,1096.0 L1928.4,1097.0 L1930.4,1098.0 L1932.4,1098.9 L1934.4,1099.8 L1936.5,1100.7 L1938.5,1101.5 L1940.5,1102.3 L1942.5,1103.1 L1944.6,1103.8 L1946.6,1104.5 L1948.6,1105.2 L1950.6,1105.9 L1952.7,1106.5 L1954.7,1107.1 L1956.7,1107.7 L1958.7,1108.3 L1960.7,1108.8 L1962.8,1109.4 L1964.8,1109.9 L1966.8,1110.3 L1968.8,1110.8 L1970.8,1111.2 L1972.8,1111.7 L1974.9,1112.1 L1976.9,1112.5 L1978.9,1112.9 L1980.9,1113.2 L1982.9,1113.6 L1984.9,1113.9 L1986.9,1114.2 L1988.9,1114.5 L1991.0,1114.8 L1993.0,1115.1 L1995.0,1115.4 L1997.0,1115.7 L1999.0,1115.9 L2001.0,1116.2 L2003.0,1116.4 L2005.0,1116.6 L2007.0,1116.8 L2009.0,1117.0 L2011.0,1117.2 L2013.0,1117.4 L2015.0,1117.6 L2017.0,1117.8 L2019.0,1118.0 L2021.0,1118.1 L2023.0,1118.3 L2025.0,1118.5 L2027.0,1118.6 L2029.0,1118.8 L2031.0,1118.9 L2033.0,1119.0 L2035.0,1119.2 L2037.1,1119.3 L2039.1,1119.4 L2041.1,1119.5 L2043.1,1119.7 L2045.1,1119.8 L2047.1,1119.9 L2049.1,1120.0 L2051.1,1120.1 L2053.1,1120.2 L2055.1,1120.3 L2057.1,1120.4 L2059.1,1120.5 L2061.1,1120.6 L2063.1,1120.7 L2065.1,1120.8 L2067.1,1120.9 L2069.1,1120.9 L2071.1,1121.0 L2073.1,1121.1 L2075.1,1121.2 L2077.1,1121.3 L2079.1,1121.3 L2081.1,1121.4 L2083.1,1121.5 L2085.1,1121.6 L2087.1,1121.6 L2089.1,1121.7 L2091.1,1121.8 L2093.1,1121.9 L2095.1,1121.9 L2097.1,1122.0 L2099.1,1122.1 L2101.1,1122.1 L2103.1,1122.2 L2105.1,1122.3 L2107.1,1122.3 L2109.1,1122.4 L2111.1,1122.5 L2113.1,1122.5 L2115.1,1122.6 L2117.1,1122.7 L2119.1,1122.7 L2121.1,1122.8 L2123.1,1122.9 L2125.1,1122.9 L2127.1,1123.0 L2129.1,1123.0 L2131.1,1123.1 L2133.1,1123.2 L2135.1,1123.2 L2137.1,1123.3 L2139.1,1123.3 L2141.1,1123.4 L2143.1,1123.5 L2145.1,1123.5 L2147.1,1123.6 L2149.1,1123.6 L2151.0,1123.7 L2153.0,1123.7 L2155.0,1123.8 L2157.0,1123.8 L2159.0,1123.9 L2161.0,1124.0 L2163.0,1124.0 L2165.0,1124.1 L2167.0,1124.1 L2169.0,1124.2 L2171.0,1124.2 L2173.0,1124.3 L2175.0,1124.3 L2177.0,1124.4 L2179.0,1124.4 L2181.0,1124.5 L2183.0,1124.5 L2185.0,1124.6 L2187.0,1124.6 L2189.0,1124.7 L2191.0,1124.7 L2193.0,1124.7 L2195.0,1124.8 L2197.0,1124.8 L2199.0,1124.9 L2201.0,1124.9 L2203.0,1125.0 L2205.0,1125.0 L2207.0,1125.0 L2209.0,1125.1 L2211.0,1125.1 L2213.0,1125.2 L2215.0,1125.2 L2217.0,1125.2 L2219.0,1125.3 L2221.0,1125.3 L2223.0,1125.3 L2225.0,1125.4 L2227.0,1125.4 L2229.0,1125.4 L2231.0,1125.5 L2233.0,1125.5 L2235.0,1125.5 L2237.0,1125.5 L2239.0,1125.6 L2241.0,1125.6 L2243.0,1125.6 L2245.0,1125.6 L2247.0,1125.7 L2249.0,1125.7 L2251.0,1125.7 L2253.0,1125.7 L2255.0,1125.8 L2257.0,1125.8 L2259.0,1125.8 L2261.0,1125.8 L2263.0,1125.8 L2265.0,1125.8 L2267.0,1125.9 L2269.0,1125.9 L2271.0,1125.9 L2273.0,1125.9 L2275.0,1125.9 L2277.0,1125.9 L2279.0,1125.9 L2281.0,1126.0 L2283.0,1126.0 L2285.0,1126.0 L2287.0,1126.0 L2289.0,1126.0 L2291.0,1126.0 L2293.0,1126.0 L2295.0,1126.0 L2297.0,1126.1 L2299.0,1126.1 L2301.0,1126.1 L2303.0,1126.1 L2305.0,1126.1 L2307.0,1126.1 L2309.0,1126.1 L2311.0,1126.1 L2313.0,1126.1 L2315.0,1126.1 L2317.0,1126.2 L2319.0,1126.2 L2321.0,1126.2 L2323.0,1126.2 L2325.0,1126.2 L2327.0,1126.2 L2329.0,1126.2 L2331.0,1126.2 L2333.0,1126.2 L2335.0,1126.2 L2337.0,1126.3 L2339.0,1126.3 L2341.0,1126.3 L2343.0,1126.3 L2345.0,1126.3 L2347.0,1126.3 L2349.0,1126.3 L2351.0,1126.3 L2353.0,1126.4 L2355.0,1126.4 L2357.0,1126.4 L2359.0,1126.4 L2361.0,1126.4 L2363.0,1126.4 L2365.0,1126.5 L2367.0,1126.5 L2369.0,1126.5 L2371.0,1126.5 L2373.0,1126.5 L2375.0,1126.5 L2376.0,1126.6" stroke="#e00000"/>
<path d="M81.0,1212.7 L83.0,1212.7 L85.0,1212.7 L87.0,1212.7 L89.0,1212.7 L91.0,1212.7 L93.0,1212.7 L95.0,1212.6 L97.0,1212.6 L99.0,1212.6 L101.0,1212.6 L103.0,1212.6 L105.0,1212.6 L107.0,1212.6 L109.0,1212.6 L111.0,1212.6 L113.0,1212.6 L115.0,1212.6 L117.0,1212.6 L119.0,1212.6 L121.0,1212.6 L123.0,1212.6 L125.0,1212.6 L127.0,1212.5 L129.0,1212.5 L131.0,1212.5 L133.0,1212.5 L135.0,1212.5 L137.0,1212.5 L139.0,1212.5 L141.0,1212.5 L143.0,1212.5 L145.0,1212.5 L147.0,1212.5 L149.0,1212.5 L151.0,1212.5 L153.0,1212.5 L155.0,1212.4 L157.0,1212.4 L159.0,1212.4 L161.0,1212.4 L163.0,1212.4 L165.0,1212.4 L167.0,1212.4 L169.0,1212.4 L171.0,1212.4 L173.0,1212.4 L175.0,1212.4 L177.0,1212.4 L179.0,1212.4 L181.0,1212.4 L183.0,1212.3 L185.0,1212.3 L187.0,1212.3 L189.0,1212.3 L191.0,1212.3 L193.0,1212.3 L195.0,1212.3 L197.0,1212.3 L199.0,1212.3 L201.0,1212.3 L203.0,1212.3 L205.0,1212.3 L207.0,1212.2 L209.0,1212.2 L211.0,1212.2 L213.0,1212.2 L215.0,1212.2 L217.0,1212.2 L219.0,1212.2 L221.0,1212.2 L223.0,1212.2 L225.0,1212.2 L227.0,1212.2 L229.0,1212.1 L231.0,1212.1 L233.0,1212.1 L235.0,1212.1 L237.0,1212.1 L239.0,1212.1 L241.0,1212.1 L243.0,1212.1 L245.0,1212.1 L247.0,1212.1 L249.0,1212.1 L251.0,1212.0 L253.0,1212.0 L255.0,1212.0 L257.0,1212.0 L259.0,1212.0 L261.0,1212.0 L263.0,1212.0 L265.0,1212.0 L267.0,1212.0 L269.0,1211.9 L271.0,1211.9 L273.0,1211.9 L275.0,1211.9 L277.0,1211.9 L279.0,1211.9 L281.0,1211.9 L283.0,1211.9 L285.0,1211.9 L287.0,1211.8 L289.0,1211.8 L291.0,1211.8 L293.0,1211.8 L295.0,1211.8 L297.0,1211.8 L299.0,1211.8 L301.0,1211.8 L303.0,1211.8 L305.0,1211.7 L307.0,1211.7 L309.0,1211.7 L311.0,1211.7 L313.0,1211.7 L315.0,1211.7 L317.0,1211.7 L319.0,1211.7 L321.0,1211.6 L323.0,1211.6 L325.0,1211.6 L327.0,1211.6 L329.0,1211.6 L331.0,1211.6 L333.0,1211.6 L335.0,1211.5 L337.0,1211.5 L339.0,1211.5 L341.0,1211.5 L343.0,1211.5 L345.0,1211.5 L347.0,1211.5 L349.0,1211.4 L351.0,1211.4 L353.0,1211.4 L355.0,1211.4 L357.0,1211.4 L359.0,1211.4 L361.0,1211.4 L363.0,1211.3 L365.0,1211.3 L367.0,1211.3 L369.0,1211.3 L371.0,1211.3 L373.0,1211.3 L375.0,1211.2 L377.0,1211.2 L379.0,1211.2 L381.0,1211.2 L383.0,1211.2 L385.0,1211.2 L387.0,1211.1 L389.0,1211.1 L391.0,1211.1 L393.0,1211.1 L395.0,1211.1 L397.0,1211.1 L399.0,1211.0 L401.0,1211.0 L403.0,1211.0 L405.0,1211.0 L407.0,1211.0 L409.0,1210.9 L411.0,1210.9 L413.0,1210.9 L415.0,1210.9 L417.0,1210.9 L419.0,1210.8 L421.0,1210.8 L423.0,1210.8 L425.0,1210.8 L427.0,1210.8 L429.0,1210.7 L431.0,1210.7 L433.0,1210.7 L435.0,1210.7 L437.0,1210.6 L439.0,1210.6 L441.0,1210.6 L443.0,1210.6 L445.0,1210.5 L447.0,1210.5 L449.0,1210.5 L451.0,1210.5 L453.0,1210.4 L455.0,1210.4 L457.0,1210.4 L459.0,1210.4 L461.0,1210.3 L463.0,1210.3 L465.0,1210.3 L467.0,1210.2 L469.0,1210.2 L471.0,1210.2 L473.0,1210.2 L475.0,1210.1 L477.0,1210.1 L479.0,1210.1 L481.0,1210.0 L483.0,1210.0 L485.0,1210.0 L487.0,1209.9 L489.0,1209.9 L491.0,1209.8 L493.0,1209.8 L495.0,1209.8 L497.0,1209.7 L499.0,1209.7 L501.0,1209.6 L503.0,1209.6 L505.0,1209.6 L507.0,1209.5 L509.0,1209.5 L511.0,1209.4 L513.0,1209.4 L515.0,1209.3 L517.0,1209.3 L519.0,1209.2 L521.0,1209.2 L523.0,1209.1 L525.0,1209.1 L527.0,1209.0 L529.0,1209.0 L531.0,1208.9 L533.0,1208.9 L535.0,1208.8 L537.0,1208.7 L539.0,1208.7 L541.0,1208.6 L543.0,1208.6 L545.0,1208.5 L547.0,1208.4 L549.0,1208.4 L551.0,1208.3 L553.0,1208.2 L555.0,1208.2 L557.0,1208.1 L559.0,1208.0 L561.0,1208.0 L563.0,1207.9 L565.0,1207.8 L567.0,1207.7 L569.0,1207.7 L571.0,1207.6 L573.0,1207.5 L575.0,1207.4 L577.0,1207.4 L579.0,1207.3 L581.0,1207.2 L583.0,1207.1 L585.0,1207.1 L587.0,1207.0 L589.0,1206.9 L591.0,1206.8 L593.0,1206.7 L595.0,1206.7 L597.0,1206.6 L599.0,1206.5 L601.0,1206.4 L603.0,1206.3 L605.0,1206.3 L607.0,1206.2 L609.0,1206.1 L611.0,1206.0 L613.0,1205.9 L614.9,1205.8 L616.9,1205.8 L618.9,1205.7 L620.9,1205.6 L622.9,1205.5 L624.9,1205.4 L626.9,1205.4 L628.9,1205.3 L630.9,1205.2 L632.9,1205.1 L634.9,1205.0 L636.9,1204.9 L638.9,1204.9 L640.9,1204.8 L642.9,1204.7 L644.9,1204.6 L646.9,1204.5 L648.9,1204.4 L650.9,1204.3 L652.9,1204.3 L654.9,1204.2 L656.9,1204.1 L658.9,1204.0 L660.9,1203.9 L662.9,1203.8 L664.9,1203.7 L666.9,1203.6 L668.9,1203.5 L670.9,1203.4 L672.9,1203.3 L674.9,1203.2 L676.9,1203.1 L678.9,1203.0 L680.9,1202.9 L682.9,1202.7 L684.9,1202.6 L686.9,1202.5 L688.9,1202.4 L690.9,1202.2 L692.9,1202.1 L694.9,1201.9 L696.9,1201.8 L698.9,1201.6 L700.9,1201.5 L702.9,1201.3 L704.9,1201.1 L706.9,1201.0 L708.9,1200.8 L710.9,1200.6 L712.9,1200.4 L714.9,1200.2 L716.9,1199.9 L718.8,1199.7 L720.8,1199.5 L722.8,1199.2 L724.8,1198.9 L726.8,1198.7 L728.8,1198.4 L730.8,1198.1 L732.8,1197.8 L734.8,1197.4 L736.8,1197.1 L738.8,1196.7 L740.8,1196.3 L742.8,1195.9 L744.8,1195.5 L746.8,1195.1 L748.8,1194.6 L750.8,1194.1 L752.8,1193.6 L754.8,1193.1 L756.8,1192.5 L758.8,1191.9 L760.8,1191.3 L762.8,1190.7 L764.8,1190.0 L766.8,1189.3 L768.8,1188.6 L770.8,1187.8 L772.8,1187.0 L774.8,1186.2 L776.8,1185.3 L778.8,1184.4 L780.8,1183.5 L782.8,1182.5 L784.8,1181.5 L786.8,1180.4 L788.8,1179.3 L790.8,1178.1 L792.9,1176.9 L794.9,1175.6 L796.9,1174.3 L798.9,1172.9 L800.9,1171.5 L802.9,1170.0 L804.9,1168.5 L806.9,1166.9 L808.9,1165.2 L811.0,1163.5 L813.0,1161.7 L815.0,1159.8 L817.0,1157.9 L819.0,1155.9 L821.0,1153.9 L823.0,1151.8 L825.0,1149.6 L827.1,1147.3 L829.1,1145.0 L831.1,1142.5 L833.1,1140.1 L835.1,1137.5 L837.1,1134.9 L839.1,1132.1 L841.1,1129.4 L843.1,1126.5 L845.1,1123.5 L847.1,1120.5 L849.1,1117.4 L851.1,1114.2 L853.1,1111.0 L855.1,1107.6 L857.1,1104.2 L859.1,1100.7 L861.1,1097.1 L863.1,1093.5 L865.0,1089.8 L867.0,1086.0 L869.0,1082.1 L871.0,1078.1 L872.9,1074.1 L874.9,1070.1 L876.9,1065.9 L878.8,1061.7 L880.8,1057.4 L882.7,1053.1 L884.7,1048.7 L886.6,1044.3 L888.6,1039.8 L890.5,1035.2 L892.4,1030.6 L894.4,1026.0 L896.3,1021.4 L898.3,1016.7 L900.2,1011.9 L902.2,1007.2 L904.1,1002.4 L906.1,997.6 L908.0,992.8 L910.0,988.0 L912.0,983.2 L914.0,978.4 L915.9,973.6 L917.9,968.8 L919.9,964.1 L921.9,959.3 L923.9,954.6 L925.9,950.0 L927.9,945.4 L929.9,940.8 L932.0,936.3 L934.0,931.8 L936.0,927.5 L938.0,923.2 L940.1,918.9 L942.1,914.8 L944.1,910.8 L946.1,906.8 L948.2,903.0 L950.2,899.3 L952.2,895.7 L954.2,892.2 L956.3,888.9 L958.3,885.7 L960.3,882.7 L962.3,879.8 L964.4,877.1 L966.4,874.6 L968.4,872.2 L970.4,870.0 L972.5,868.0 L974.5,866.1 L976.5,864.5 L978.6,863.1 L980.6,861.8 L982.7,860.8 L984.8,859.9 L986.8,859.3 L988.9,858.9 L991.0,858.7 L993.0,858.7 L995.1,858.8 L997.2,859.2 L999.2,859.7 L1001.3,860.5 L1003.3,861.4 L1005.4,862.5 L1007.4,863.7 L1009.4,865.2 L1011.5,866.8 L1013.5,868.5 L1015.5,870.4 L1017.5,872.5 L1019.5,874.7 L1021.6,877.1 L1023.6,879.5 L1025.6,882.2 L1027.6,884.9 L1029.6,887.8 L1031.6,890.7 L1033.6,893.8 L1035.6,897.0 L1037.6,900.3 L1039.6,903.7 L1041.6,907.1 L1043.6,910.7 L1045.6,914.3 L1047.6,918.0 L1049.5,921.7 L1051.5,925.6 L1053.5,929.4 L1055.5,933.3 L1057.4,937.3 L1059.4,941.3 L1061.4,945.3 L1063.3,949.3 L1065.3,953.4 L1067.2,957.5 L1069.2,961.6 L1071.1,965.7 L1073.1,969.8 L1075.0,973.9 L1076.9,977.9 L1078.9,982.0 L1080.8,986.1 L1082.8,990.1 L1084.7,994.2 L1086.7,998.2 L1088.6,1002.1 L1090.5,1006.1 L1092.5,1010.0 L1094.5,1013.9 L1096.4,1017.7 L1098.4,1021.5 L1100.3,1025.2 L1102.3,1028.9 L1104.3,1032.5 L1106.3,1036.1 L1108.2,1039.7 L1110.2,1043.1 L1112.2,1046.6 L1114.2,1049.9 L1116.2,1053.2 L1118.2,1056.4 L1120.2,1059.6 L1122.2,1062.7 L1124.2,1065.8 L1126.2,1068.8 L1128.2,1071.7 L1130.2,1074.5 L1132.2,1077.3 L1134.2,1080.0 L1136.3,1082.7 L1138.3,1085.3 L1140.3,1087.8 L1142.3,1090.2 L1144.3,1092.6 L1146.4,1094.9 L1148.4,1097.2 L1150.4,1099.3 L1152.4,1101.5 L1154.5,1103.5 L1156.5,1105.5 L1158.5,1107.4 L1160.5,1109.3 L1162.6,1111.1 L1164.6,1112.9 L1166.6,1114.5 L1168.6,1116.2 L1170.7,1117.7 L1172.7,1119.3 L1174.7,1120.7 L1176.7,1122.1 L1178.8,1123.5 L1180.8,1124.8 L1182.8,1126.0 L1184.8,1127.2 L1186.8,1128.4 L1188.9,1129.5 L1190.9,1130.5 L1192.9,1131.6 L1194.9,1132.5 L1196.9,1133.5 L1199.0,1134.4 L1201.0,1135.2 L1203.0,1136.0 L1205.0,1136.8 L1207.0,1137.6 L1209.0,1138.3 L1211.0,1138.9 L1213.0,1139.6 L1215.0,1140.2 L1217.0,1140.8 L1219.0,1141.3 L1221.1,1141.9 L1223.1,1142.4 L1225.1,1142.8 L1227.1,1143.3 L1229.1,1143.7 L1231.1,1144.1 L1233.1,1144.5 L1235.1,1144.9 L1237.1,1145.2 L1239.1,1145.6 L1241.1,1145.9 L1243.1,1146.2 L1245.1,1146.5 L1247.1,1146.7 L1249.1,1147.0 L1251.1,1147.2 L1253.1,1147.5 L1255.1,1147.7 L1257.1,1147.9 L1259.1,1148.1 L1261.1,1148.2 L1263.1,1148.4 L1265.1,1148.6 L1267.1,1148.7 L1269.1,1148.9 L1271.1,1149.0 L1273.1,1149.2 L1275.1,1149.3 L1277.1,1149.4 L1279.1,1149.5 L1281.1,1149.6 L1283.0,1149.7 L1285.0,1149.8 L1287.0,1149.9 L1289.0,1150.0 L1291.0,1150.1 L1293.0,1150.2 L1295.0,1150.3 L1297.0,1150.4 L1299.0,1150.4 L1301.0,1150.5 L1303.0,1150.6 L1305.0,1150.7 L1307.0,1150.7 L1309.0,1150.8 L1311.0,1150.9 L1313.0,1150.9 L1315.0,1151.0 L1317.0,1151.0 L1319.0,1151.1 L1321.0,1151.2 L1323.0,1151.2 L1325.0,1151.3 L1327.0,1151.3 L1329.0,1151.4 L1331.0,1151.4 L1333.0,1151.5 L1335.0,1151.6 L1337.0,1151.6 L1339.0,1151.7 L1341.0,1151.7 L1343.0,1151.8 L1345.0,1151.8 L1347.0,1151.9 L1349.0,1151.9 L1351.0,1152.0 L1353.0,1152.0 L1355.0,1152.1 L1357.0,1152.1 L1359.0,1152.2 L1361.0,1152.2 L1363.0,1152.3 L1365.0,1152.3 L1367.0,1152.4 L1369.0,1152.4 L1371.0,1152.5 L1373.0,1152.5 L1375.0,1152.6 L1377.0,1152.6 L1379.0,1152.7 L1381.0,1152.7 L1383.0,1152.8 L1385.0,1152.8 L1387.0,1152.9 L1389.0,1152.9 L1391.0,1153.0 L1393.0,1153.0 L1395.0,1153.1 L1397.0,1153.1 L1399.0,1153.1 L1401.0,1153.2 L1403.0,1153.2 L1405.0,1153.3 L1407.0,1153.3 L1409.0,1153.3 L1411.0,1153.4 L1413.0,1153.4 L1415.0,1153.5 L1417.0,1153.5 L1419.0,1153.5 L1421.0,1153.6 L1423.0,1153.6 L1425.0,1153.6 L1427.0,1153.7 L1429.0,1153.7 L1431.0,1153.7 L1433.0,1153.8 L1435.0,1153.8 L1437.0,1153.8 L1439.0,1153.8 L1441.0,1153.9 L1443.0,1153.9 L1445.0,1153.9 L1447.0,1153.9 L1449.0,1154.0 L1451.0,1154.0 L1453.0,1154.0 L1455.0,1154.0 L1457.0,1154.0 L1459.0,1154.1 L1461.0,1154.1 L1463.0,1154.1 L1465.0,1154.1 L1467.0,1154.1 L1469.0,1154.1 L1471.0,1154.1 L1473.0,1154.1 L1475.0,1154.1 L1477.0,1154.2 L1479.0,1154.2 L1481.0,1154.2 L1483.0,1154.2 L1485.0,1154.2 L1487.0,1154.2 L1489.0,1154.2 L1491.0,1154.2 L1493.0,1154.1 L1495.0,1154.1 L1497.0,1154.1 L1499.0,1154.1 L1501.0,1154.1 L1503.0,1154.1 L1505.0,1154.1 L1507.0,1154.1 L1509.0,1154.0 L1511.0,1154.0 L1513.0,1154.0 L1515.0,1154.0 L1517.0,1154.0 L1519.0,1153.9 L1521.0,1153.9 L1523.0,1153.9 L1525.0,1153.9 L1527.0,1153.8 L1529.0,1153.8 L1531.0,1153.8 L1533.0,1153.7 L1535.0,1153.7 L1537.0,1153.6 L1539.0,1153.6 L1541.0,1153.5 L1543.0,1153.5 L1545.0,1153.5 L1547.0,1153.4 L1549.0,1153.4 L1551.0,1153.3 L1553.0,1153.2 L1555.0,1153.2 L1557.0,1153.1 L1559.0,1153.1 L1561.0,1153.0 L1563.0,1153.0 L1565.0,1152.9 L1567.0,1152.8 L1569.0,1152.8 L1571.0,1152.7 L1573.0,1152.6 L1575.1,1152.5 L1577.1,1152.5 L1579.1,1152.4 L1581.1,1152.3 L1583.1,1152.2 L1585.1,1152.2 L1587.1,1152.1 L1589.1,1152.0 L1591.1,1151.9 L1593.1,1151.8 L1595.1,1151.7 L1597.1,1151.6 L1599.1,1151.5 L1601.1,1151.5 L1603.1,1151.4 L1605.1,1151.3 L1607.1,1151.2 L1609.1,1151.1 L1611.1,1151.0 L1613.1,1150.9 L1615.1,1150.8 L1617.1,1150.7 L1619.1,1150.6 L1621.1,1150.5 L1623.1,1150.4 L1625.1,1150.2 L1627.1,1150.1 L1629.1,1150.0 L1631.1,1149.9 L1633.1,1149.8 L1635.1,1149.7 L1637.1,1149.6 L1639.1,1149.5 L1641.1,1149.3 L1643.1,1149.2 L1645.2,1149.1 L1647.2,1149.0 L1649.2,1148.9 L1651.2,1148.8 L1653.2,1148.6 L1655.2,1148.5 L1657.2,1148.4 L1659.2,1148.3 L1661.2,1148.1 L1663.2,1148.0 L1665.2,1147.9 L1667.2,1147.8 L1669.2,1147.6 L1671.2,1147.5 L1673.2,1147.4 L1675.2,1147.3 L1677.2,1147.1 L1679.2,1147.0 L1681.2,1146.9 L1683.2,1146.8 L1685.2,1146.6 L1687.2,1146.5 L1689.2,1146.4 L1691.2,1146.2 L1693.2,1146.1 L1695.2,1146.0 L1697.2,1145.9 L1699.2,1145.7 L1701.2,1145.6 L1703.2,1145.5 L1705.2,1145.3 L1707.2,1145.2 L1709.2,1145.1 L1711.2,1145.0 L1713.2,1144.8 L1715.2,1144.7 L1717.2,1144.6 L1719.2,1144.5 L1721.2,1144.3 L1723.2,1144.2 L1725.2,1144.1 L1727.2,1144.0 L1729.2,1143.8 L1731.2,1143.7 L1733.2,1143.6 L1735.2,1143.5 L1737.2,1143.4 L1739.2,1143.2 L1741.2,1143.1 L1743.2,1143.0 L1745.2,1142.9 L1747.2,1142.8 L1749.2,1142.6 L1751.2,1142.5 L1753.2,1142.4 L1755.2,1142.3 L1757.2,1142.2 L1759.2,1142.1 L1761.2,1142.0 L1763.2,1141.9 L1765.2,1141.8 L1767.2,1141.7 L1769.2,1141.5 L1771.2,1141.4 L1773.2,1141.3 L1775.2,1141.2 L1777.2,1141.1 L1779.2,1141.0 L1781.2,1140.9 L1783.2,1140.8 L1785.1,1140.7 L1787.1,1140.7 L1789.1,1140.6 L1791.1,1140.5 L1793.1,1140.4 L1795.1,1140.3 L1797.1,1140.2 L1799.1,1140.1 L1801.1,1140.0 L1803.1,1140.0 L1805.1,1139.9 L1807.1,1139.8 L1809.1,1139.7 L1811.1,1139.6 L1813.1,1139.6 L1815.1,1139.5 L1817.1,1139.4 L1819.1,1139.3 L1821.1,1139.3 L1823.1,1139.2 L1825.1,1139.1 L1827.1,1139.1 L1829.1,1139.0 L1831.1,1138.9 L1833.1,1138.9 L1835.1,1138.8 L1837.1,1138.8 L1839.1,1138.7 L1841.1,1138.6 L1843.1,1138.6 L1845.1,1138.5 L1847.1,1138.5 L1849.1,1138.4 L1851.1,1138.4 L1853.1,1138.3 L1855.1,1138.3 L1857.1,1138.2 L1859.1,1138.2 L1861.1,1138.2 L1863.0,1138.1 L1865.0,1138.1 L1867.0,1138.0 L1869.0,1138.0 L1871.0,1138.0 L1873.0,1137.9 L1875.0,1137.9 L1877.0,1137.9 L1879.0,1137.8 L1881.0,1137.8 L1883.0,1137.8 L1885.0,1137.7 L1887.0,1137.7 L1889.0,1137.7 L1891.0,1137.6 L1893.0,1137.6 L1895.0,1137.6 L1897.0,1137.6 L1899.0,1137.5 L1901.0,1137.5 L1903.0,1137.5 L1905.0,1137.5 L1907.0,1137.5 L1909.0,1137.4 L1911.0,1137.4 L1913.0,1137.4 L1915.0,1137.4 L1917.0,1137.3 L1919.0,1137.3 L1921.0,1137.3 L1923.0,1137.3 L1925.0,1137.3 L1927.0,1137.3 L1929.0,1137.2 L1931.0,1137.2 L1933.0,1137.2 L1935.0,1137.2 L1937.0,1137.2 L1939.0,1137.2 L1941.0,1137.2 L1943.0,1137.1 L1945.0,1137.1 L1947.0,1137.1 L1949.0,1137.1 L1951.0,1137.1 L1953.0,1137.1 L1955.0,1137.1 L1957.0,1137.1 L1959.0,1137.0 L1961.0,1137.0 L1963.0,1137.0 L1965.0,1137.0 L1967.0,1137.0 L1969.0,1137.0 L1971.0,1137.0 L1973.0,1137.0 L1975.0,1137.0 L1977.0,1137.0 L1979.0,1137.0 L1981.0,1136.9 L1983.0,1136.9 L1985.0,1136.9 L1987.0,1136.9 L1989.0,1136.9 L1991.0,1136.9 L1993.0,1136.9 L1995.0,1136.9 L1997.0,1136.9 L1999.0,1136.9 L2001.0,1136.9 L2003.0,1136.9 L2005.0,1136.9 L2007.0,1136.8 L2009.0,1136.8 L2011.0,1136.8 L2013.0,1136.8 L2015.0,1136.8 L2017.0,1136.8 L2019.0,1136.8 L2021.0,1136.8 L2023.0,1136.8 L2025.0,1136.8 L2027.0,1136.8 L2029.0,1136.8 L2031.0,1136.8 L2033.0,1136.8 L2035.0,1136.8 L2037.0,1136.8 L2039.0,1136.8 L2041.0,1136.8 L2043.0,1136.8 L2045.0,1136.8 L2047.0,1136.8 L2049.0,1136.8 L2051.0,1136.8 L2053.0,1136.8 L2055.0,1136.8 L2057.0,1136.8 L2059.0,1136.8 L2061.0,1136.8 L2063.0,1136.7 L2065.0,1136.7 L2067.0,1136.7 L2069.0,1136.7 L2071.0,1136.7 L2073.0,1136.7 L2075.0,1136.7 L2077.0,1136.7 L2079.0,1136.7 L2081.0,1136.7 L2083.0,1136.7 L2085.0,1136.7 L2087.0,1136.7 L2089.0,1136.7 L2091.0,1136.7 L2093.0,1136.7 L2095.0,1136.7 L2097.0,1136.7 L2099.0,1136.7 L2101.0,1136.7 L2103.0,1136.7 L2105.0,1136.7 L2107.0,1136.7 L2109.0,1136.8 L2111.0,1136.8 L2113.0,1136.8 L2115.0,1136.8 L2117.0,1136.8 L2119.0,1136.8 L2121.0,1136.8 L2123.0,1136.8 L2125.0,1136.8 L2127.0,1136.8 L2129.0,1136.8 L2131.0,1136.8 L2133.0,1136.8 L2135.0,1136.8 L2137.0,1136.8 L2139.0,1136.8 L2141.0,1136.8 L2143.0,1136.8 L2145.0,1136.8 L2147.0,1136.8 L2149.0,1136.8 L2151.0,1136.8 L2153.0,1136.8 L2155.0,1136.8 L2157.0,1136.8 L2159.0,1136.7 L2161.0,1136.7 L2163.0,1136.7 L2165.0,1136.7 L2167.0,1136.7 L2169.0,1136.7 L2171.0,1136.7 L2173.0,1136.7 L2175.0,1136.7 L2177.0,1136.7 L2179.0,1136.7 L2181.0,1136.7 L2183.0,1136.7 L2185.0,1136.7 L2187.0,1136.7 L2189.0,1136.7 L2191.0,1136.7 L2193.0,1136.7 L2195.0,1136.7 L2197.0,1136.7 L2199.0,1136.7 L2201.0,1136.7 L2203.0,1136.7 L2205.0,1136.7 L2207.0,1136.6 L2209.0,1136.6 L2211.0,1136.6 L2213.0,1136.6 L2215.0,1136.6 L2217.0,1136.6 L2219.0,1136.6 L2221.0,1136.6 L2223.0,1136.6 L2225.0,1136.6 L2227.0,1136.6 L2229.0,1136.6 L2231.0,1136.6 L2233.0,1136.5 L2235.0,1136.5 L2237.0,1136.5 L2239.0,1136.5 L2241.0,1136.5 L2243.0,1136.5 L2245.0,1136.5 L2247.0,1136.5 L2249.0,1136.5 L2251.0,1136.5 L2253.0,1136.5 L2255.0,1136.4 L2257.0,1136.4 L2259.0,1136.4 L2261.0,1136.4 L2263.0,1136.4 L2265.0,1136.4 L2267.0,1136.4 L2269.0,1136.4 L2271.0,1136.4 L2273.0,1136.4 L2275.0,1136.3 L2277.0,1136.3 L2279.0,1136.3 L2281.0,1136.3 L2283.0,1136.3 L2285.0,1136.3 L2287.0,1136.3 L2289.0,1136.3 L2291.0,1136.3 L2293.0,1136.3 L2295.0,1136.3 L2297.0,1136.2 L2299.0,1136.2 L2301.0,1136.2 L2303.0,1136.2 L2305.0,1136.2 L2307.0,1136.2 L2309.0,1136.2 L2311.0,1136.2 L2313.0,1136.2 L2315.0,1136.1 L2317.0,1136.1 L2319.0,1136.1 L2321.0,1136.1 L2323.0,1136.1 L2325.0,1136.1 L2327.0,1136.1 L2329.0,1136.1 L2331.0,1136.1 L2333.0,1136.1 L2335.0,1136.0 L2337.0,1136.0 L2339.0,1136.0 L2341.0,1136.0 L2343.0,1136.0 L2345.0,1136.0 L2347.0,1136.0 L2349.0,1136.0 L2351.0,1136.0 L2353.0,1135.9 L2355.0,1135.9 L2357.0,1135.9 L2359.0,1135.9 L2361.0,1135.9 L2363.0,1135.9 L2365.0,1135.9 L2367.0,1135.9 L2369.0,1135.9 L2371.0,1135.8 L2373.0,1135.8 L2375.0,1135.8 L2376.0,1135.8" stroke="#00b050"/>
<path d="M81.0,1213.5 L83.0,1213.5 L85.0,1213.5 L87.0,1213.5 L89.0,1213.5 L91.0,1213.5 L93.0,1213.5 L95.0,1213.4 L97.0,1213.4 L99.0,1213.4 L101.0,1213.4 L103.0,1213.4 L105.0,1213.4 L107.0,1213.4 L109.0,1213.4 L111.0,1213.4 L113.0,1213.4 L115.0,1213.4 L117.0,1213.4 L119.0,1213.4 L121.0,1213.4 L123.0,1213.4 L125.0,1213.4 L127.0,1213.4 L129.0,1213.4 L131.0,1213.4 L133.0,1213.4 L135.0,1213.4 L137.0,1213.4 L139.0,1213.4 L141.0,1213.4 L143.0,1213.4 L145.0,1213.4 L147.0,1213.4 L149.0,1213.4 L151.0,1213.4 L153.0,1213.4 L155.0,1213.4 L157.0,1213.4 L159.0,1213.4 L161.0,1213.4 L163.0,1213.4 L165.0,1213.4 L167.0,1213.4 L169.0,1213.4 L171.0,1213.4 L173.0,1213.4 L175.0,1213.4 L177.0,1213.4 L179.0,1213.4 L181.0,1213.4 L183.0,1213.4 L185.0,1213.3 L187.0,1213.3 L189.0,1213.3 L191.0,1213.3 L193.0,1213.3 L195.0,1213.3 L197.0,1213.3 L199.0,1213.3 L201.0,1213.3 L203.0,1213.3 L205.0,1213.3 L207.0,1213.3 L209.0,1213.3 L211.0,1213.3 L213.0,1213.3 L215.0,1213.3 L217.0,1213.3 L219.0,1213.3 L221.0,1213.3 L223.0,1213.3 L225.0,1213.3 L227.0,1213.3 L229.0,1213.3 L231.0,1213.3 L233.0,1213.3 L235.0,1213.3 L237.0,1213.3 L239.0,1213.3 L241.0,1213.3 L243.0,1213.3 L245.0,1213.3 L247.0,1213.3 L249.0,1213.3 L251.0,1213.3 L253.0,1213.3 L255.0,1213.3 L257.0,1213.3 L259.0,1213.3 L261.0,1213.3 L263.0,1213.2 L265.0,1213.2 L267.0,1213.2 L269.0,1213.2 L271.0,1213.2 L273.0,1213.2 L275.0,1213.2 L277.0,1213.2 L279.0,1213.2 L281.0,1213.2 L283.0,1213.2 L285.0,1213.2 L287.0,1213.2 L289.0,1213.2 L291.0,1213.2 L293.0,1213.2 L295.0,1213.2 L297.0,1213.2 L299.0,1213.2 L301.0,1213.2 L303.0,1213.2 L305.0,1213.2 L307.0,1213.2 L309.0,1213.2 L311.0,1213.2 L313.0,1213.2 L315.0,1213.2 L317.0,1213.2 L319.0,1213.2 L321.0,1213.2 L323.0,1213.2 L325.0,1213.2 L327.0,1213.1 L329.0,1213.1 L331.0,1213.1 L333.0,1213.1 L335.0,1213.1 L337.0,1213.1 L339.0,1213.1 L341.0,1213.1 L343.0,1213.1 L345.0,1213.1 L347.0,1213.1 L349.0,1213.1 L351.0,1213.1 L353.0,1213.1 L355.0,1213.1 L357.0,1213.1 L359.0,1213.1 L361.0,1213.1 L363.0,1213.1 L365.0,1213.1 L367.0,1213.1 L369.0,1213.1 L371.0,1213.1 L373.0,1213.1 L375.0,1213.1 L377.0,1213.1 L379.0,1213.1 L381.0,1213.1 L383.0,1213.0 L385.0,1213.0 L387.0,1213.0 L389.0,1213.0 L391.0,1213.0 L393.0,1213.0 L395.0,1213.0 L397.0,1213.0 L399.0,1213.0 L401.0,1213.0 L403.0,1213.0 L405.0,1213.0 L407.0,1213.0 L409.0,1213.0 L411.0,1213.0 L413.0,1213.0 L415.0,1213.0 L417.0,1213.0 L419.0,1213.0 L421.0,1213.0 L423.0,1213.0 L425.0,1213.0 L427.0,1213.0 L429.0,1213.0 L431.0,1213.0 L433.0,1212.9 L435.0,1212.9 L437.0,1212.9 L439.0,1212.9 L441.0,1212.9 L443.0,1212.9 L445.0,1212.9 L447.0,1212.9 L449.0,1212.9 L451.0,1212.9 L453.0,1212.9 L455.0,1212.9 L457.0,1212.9 L459.0,1212.9 L461.0,1212.9 L463.0,1212.9 L465.0,1212.9 L467.0,1212.9 L469.0,1212.9 L471.0,1212.9 L473.0,1212.9 L475.0,1212.9 L477.0,1212.8 L479.0,1212.8 L481.0,1212.8 L483.0,1212.8 L485.0,1212.8 L487.0,1212.8 L489.0,1212.8 L491.0,1212.8 L493.0,1212.8 L495.0,1212.8 L497.0,1212.8 L499.0,1212.8 L501.0,1212.8 L503.0,1212.8 L505.0,1212.8 L507.0,1212.8 L509.0,1212.8 L511.0,1212.8 L513.0,1212.8 L515.0,1212.7 L517.0,1212.7 L519.0,1212.7 L521.0,1212.7 L523.0,1212.7 L525.0,1212.7 L527.0,1212.7 L529.0,1212.7 L531.0,1212.7 L533.0,1212.7 L535.0,1212.7 L537.0,1212.7 L539.0,1212.7 L541.0,1212.7 L543.0,1212.7 L545.0,1212.7 L547.0,1212.7 L549.0,1212.6 L551.0,1212.6 L553.0,1212.6 L555.0,1212.6 L557.0,1212.6 L559.0,1212.6 L561.0,1212.6 L563.0,1212.6 L565.0,1212.6 L567.0,1212.6 L569.0,1212.6 L571.0,1212.6 L573.0,1212.6 L575.0,1212.6 L577.0,1212.6 L579.0,1212.6 L581.0,1212.5 L583.0,1212.5 L585.0,1212.5 L587.0,1212.5 L589.0,1212.5 L591.0,1212.5 L593.0,1212.5 L595.0,1212.5 L597.0,1212.5 L599.0,1212.5 L601.0,1212.5 L603.0,1212.5 L605.0,1212.5 L607.0,1212.5 L609.0,1212.4 L611.0,1212.4 L613.0,1212.4 L615.0,1212.4 L617.0,1212.4 L619.0,1212.4 L621.0,1212.4 L623.0,1212.4 L625.0,1212.4 L627.0,1212.4 L629.0,1212.4 L631.0,1212.4 L633.0,1212.3 L635.0,1212.3 L637.0,1212.3 L639.0,1212.3 L641.0,1212.3 L643.0,1212.3 L645.0,1212.3 L647.0,1212.3 L649.0,1212.3 L651.0,1212.3 L653.0,1212.3 L655.0,1212.3 L657.0,1212.2 L659.0,1212.2 L661.0,1212.2 L663.0,1212.2 L665.0,1212.2 L667.0,1212.2 L669.0,1212.2 L671.0,1212.2 L673.0,1212.2 L675.0,1212.2 L677.0,1212.1 L679.0,1212.1 L681.0,1212.1 L683.0,1212.1 L685.0,1212.1 L687.0,1212.1 L689.0,1212.1 L691.0,1212.1 L693.0,1212.1 L695.0,1212.1 L697.0,1212.0 L699.0,1212.0 L701.0,1212.0 L703.0,1212.0 L705.0,1212.0 L707.0,1212.0 L709.0,1212.0 L711.0,1212.0 L713.0,1211.9 L715.0,1211.9 L717.0,1211.9 L719.0,1211.9 L721.0,1211.9 L723.0,1211.9 L725.0,1211.9 L727.0,1211.9 L729.0,1211.8 L731.0,1211.8 L733.0,1211.8 L735.0,1211.8 L737.0,1211.8 L739.0,1211.8 L741.0,1211.8 L743.0,1211.7 L745.0,1211.7 L747.0,1211.7 L749.0,1211.7 L751.0,1211.7 L753.0,1211.7 L755.0,1211.6 L757.0,1211.6 L759.0,1211.6 L761.0,1211.6 L763.0,1211.6 L765.0,1211.6 L767.0,1211.5 L769.0,1211.5 L771.0,1211.5 L773.0,1211.5 L775.0,1211.5 L777.0,1211.4 L779.0,1211.4 L781.0,1211.4 L783.0,1211.4 L785.0,1211.4 L787.0,1211.3 L789.0,1211.3 L791.0,1211.3 L793.0,1211.3 L795.0,1211.2 L797.0,1211.2 L799.0,1211.2 L801.0,1211.1 L803.0,1211.1 L805.0,1211.1 L807.0,1211.1 L809.0,1211.0 L811.0,1211.0 L813.0,1211.0 L815.0,1210.9 L817.0,1210.9 L819.0,1210.9 L821.0,1210.8 L823.0,1210.8 L825.0,1210.7 L827.0,1210.7 L829.0,1210.7 L831.0,1210.6 L833.0,1210.6 L835.0,1210.5 L837.0,1210.5 L839.0,1210.4 L841.0,1210.4 L843.0,1210.3 L845.0,1210.3 L847.0,1210.2 L849.0,1210.2 L851.0,1210.1 L853.0,1210.1 L855.0,1210.0 L857.0,1209.9 L859.0,1209.9 L861.0,1209.8 L863.0,1209.7 L865.0,1209.7 L867.0,1209.6 L869.0,1209.5 L871.0,1209.4 L873.0,1209.4 L875.0,1209.3 L877.0,1209.2 L879.0,1209.1 L881.0,1209.0 L883.0,1208.9 L885.0,1208.8 L887.0,1208.7 L889.0,1208.6 L891.0,1208.5 L893.0,1208.4 L895.0,1208.3 L897.0,1208.2 L899.0,1208.1 L901.0,1208.0 L903.0,1207.9 L905.0,1207.8 L907.0,1207.6 L909.0,1207.5 L911.0,1207.4 L913.0,1207.3 L915.0,1207.1 L917.0,1207.0 L919.0,1206.8 L921.0,1206.7 L923.0,1206.5 L925.0,1206.4 L927.0,1206.2 L929.0,1206.1 L931.0,1205.9 L933.0,1205.8 L935.0,1205.6 L937.0,1205.4 L939.0,1205.2 L941.0,1205.1 L943.0,1204.9 L945.0,1204.7 L947.0,1204.5 L949.0,1204.3 L951.0,1204.1 L953.0,1203.9 L955.0,1203.7 L957.0,1203.5 L959.0,1203.3 L961.0,1203.1 L963.0,1202.8 L965.0,1202.6 L967.0,1202.4 L969.0,1202.2 L971.0,1201.9 L973.0,1201.7 L975.0,1201.5 L977.0,1201.2 L979.0,1201.0 L981.0,1200.7 L983.0,1200.5 L985.0,1200.2 L987.0,1200.0 L989.0,1199.7 L991.0,1199.4 L993.0,1199.2 L995.0,1198.9 L997.0,1198.6 L999.0,1198.3 L1001.0,1198.0 L1003.0,1197.8 L1005.0,1197.5 L1007.0,1197.2 L1009.0,1196.9 L1011.0,1196.6 L1013.0,1196.3 L1015.0,1196.0 L1017.0,1195.7 L1019.0,1195.4 L1021.0,1195.1 L1023.0,1194.8 L1025.0,1194.5 L1027.0,1194.1 L1029.0,1193.8 L1031.0,1193.5 L1033.0,1193.2 L1035.0,1192.8 L1037.0,1192.5 L1039.0,1192.2 L1041.0,1191.8 L1043.0,1191.5 L1045.0,1191.2 L1047.0,1190.8 L1049.0,1190.5 L1051.0,1190.2 L1053.0,1189.8 L1055.0,1189.5 L1057.0,1189.1 L1059.0,1188.8 L1061.0,1188.4 L1063.0,1188.1 L1065.0,1187.7 L1067.0,1187.3 L1069.0,1187.0 L1071.0,1186.6 L1073.0,1186.3 L1075.0,1185.9 L1077.0,1185.5 L1079.0,1185.2 L1081.0,1184.8 L1083.0,1184.5 L1085.0,1184.1 L1087.0,1183.7 L1089.0,1183.4 L1091.0,1183.0 L1093.0,1182.6 L1095.0,1182.3 L1097.0,1181.9 L1099.0,1181.5 L1101.0,1181.2 L1103.0,1180.8 L1105.0,1180.4 L1107.0,1180.0 L1109.0,1179.7 L1111.0,1179.3 L1113.0,1179.0 L1115.0,1178.6 L1117.0,1178.2 L1119.0,1177.9 L1121.0,1177.5 L1123.0,1177.1 L1125.0,1176.8 L1127.0,1176.4 L1129.0,1176.1 L1131.0,1175.7 L1133.0,1175.4 L1135.0,1175.0 L1137.0,1174.7 L1139.0,1174.3 L1141.0,1174.0 L1143.0,1173.7 L1145.0,1173.3 L1147.0,1173.0 L1149.0,1172.6 L1151.0,1172.3 L1153.0,1172.0 L1155.0,1171.7 L1157.0,1171.3 L1159.0,1171.0 L1161.0,1170.7 L1163.0,1170.4 L1165.0,1170.1 L1167.0,1169.8 L1169.0,1169.5 L1171.0,1169.2 L1173.0,1168.9 L1175.0,1168.6 L1177.0,1168.3 L1179.0,1168.0 L1181.0,1167.7 L1183.0,1167.5 L1185.0,1167.2 L1187.0,1166.9 L1189.0,1166.6 L1191.0,1166.4 L1193.0,1166.1 L1195.0,1165.9 L1197.0,1165.6 L1199.0,1165.4 L1201.0,1165.1 L1203.0,1164.9 L1205.0,1164.6 L1207.0,1164.4 L1209.0,1164.2 L1211.0,1163.9 L1213.0,1163.7 L1215.0,1163.5 L1217.0,1163.3 L1219.0,1163.0 L1221.0,1162.8 L1223.0,1162.6 L1225.0,1162.4 L1227.0,1162.2 L1229.0,1162.0 L1231.0,1161.8 L1233.0,1161.6 L1235.0,1161.4 L1237.0,1161.2 L1239.0,1161.0 L1241.0,1160.8 L1243.0,1160.7 L1245.0,1160.5 L1247.0,1160.3 L1249.0,1160.1 L1251.0,1160.0 L1253.0,1159.8 L1255.0,1159.6 L1257.0,1159.5 L1259.0,1159.3 L1261.0,1159.1 L1263.0,1159.0 L1265.0,1158.8 L1267.0,1158.7 L1269.0,1158.5 L1271.0,1158.4 L1273.0,1158.2 L1275.0,1158.1 L1277.0,1157.9 L1279.0,1157.8 L1281.0,1157.6 L1283.0,1157.5 L1285.0,1157.3 L1287.0,1157.2 L1289.0,1157.1 L1291.0,1156.9 L1293.0,1156.8 L1295.0,1156.7 L1297.0,1156.5 L1299.0,1156.4 L1301.0,1156.2 L1303.0,1156.1 L1305.0,1156.0 L1307.0,1155.8 L1309.0,1155.7 L1311.0,1155.6 L1313.0,1155.4 L1315.0,1155.3 L1317.0,1155.1 L1319.0,1155.0 L1321.0,1154.9 L1323.0,1154.7 L1325.0,1154.6 L1327.0,1154.4 L1329.0,1154.3 L1331.0,1154.1 L1333.0,1154.0 L1335.0,1153.8 L1337.0,1153.7 L1339.0,1153.5 L1341.0,1153.4 L1343.0,1153.2 L1345.0,1153.1 L1346.9,1152.9 L1348.9,1152.7 L1350.9,1152.5 L1352.9,1152.4 L1354.9,1152.2 L1356.9,1152.0 L1358.9,1151.8 L1360.9,1151.6 L1362.9,1151.4 L1364.9,1151.2 L1366.9,1151.0 L1368.9,1150.8 L1370.9,1150.6 L1372.9,1150.4 L1374.9,1150.1 L1376.9,1149.9 L1378.9,1149.7 L1380.9,1149.4 L1382.9,1149.2 L1384.9,1148.9 L1386.9,1148.6 L1388.9,1148.3 L1390.9,1148.1 L1392.9,1147.8 L1394.9,1147.5 L1396.9,1147.1 L1398.8,1146.8 L1400.8,1146.5 L1402.8,1146.1 L1404.8,1145.8 L1406.8,1145.4 L1408.8,1145.0 L1410.8,1144.6 L1412.8,1144.2 L1414.8,1143.8 L1416.8,1143.4 L1418.8,1143.0 L1420.8,1142.5 L1422.8,1142.0 L1424.8,1141.6 L1426.7,1141.1 L1428.7,1140.6 L1430.7,1140.0 L1432.7,1139.5 L1434.7,1138.9 L1436.7,1138.4 L1438.7,1137.8 L1440.7,1137.1 L1442.7,1136.5 L1444.7,1135.9 L1446.7,1135.2 L1448.7,1134.5 L1450.7,1133.8 L1452.7,1133.1 L1454.7,1132.4 L1456.7,1131.6 L1458.6,1130.8 L1460.6,1130.0 L1462.6,1129.2 L1464.6,1128.3 L1466.6,1127.5 L1468.6,1126.6 L1470.6,1125.7 L1472.6,1124.7 L1474.6,1123.8 L1476.6,1122.8 L1478.6,1121.8 L1480.6,1120.8 L1482.6,1119.7 L1484.6,1118.7 L1486.6,1117.6 L1488.6,1116.5 L1490.6,1115.3 L1492.6,1114.1 L1494.7,1112.9 L1496.7,1111.7 L1498.7,1110.5 L1500.7,1109.2 L1502.7,1107.9 L1504.7,1106.6 L1506.7,1105.3 L1508.7,1103.9 L1510.7,1102.6 L1512.7,1101.2 L1514.8,1099.7 L1516.8,1098.3 L1518.8,1096.8 L1520.8,1095.3 L1522.8,1093.8 L1524.8,1092.3 L1526.9,1090.7 L1528.9,1089.2 L1530.9,1087.6 L1532.9,1085.9 L1534.9,1084.3 L1537.0,1082.7 L1539.0,1081.0 L1541.0,1079.3 L1543.0,1077.6 L1545.1,1075.9 L1547.1,1074.2 L1549.1,1072.4 L1551.1,1070.7 L1553.2,1068.9 L1555.2,1067.2 L1557.2,1065.4 L1559.2,1063.6 L1561.2,1061.8 L1563.3,1060.0 L1565.3,1058.2 L1567.3,1056.4 L1569.3,1054.6 L1571.4,1052.7 L1573.4,1050.9 L1575.4,1049.1 L1577.4,1047.3 L1579.4,1045.5 L1581.4,1043.7 L1583.5,1041.9 L1585.5,1040.1 L1587.5,1038.4 L1589.5,1036.6 L1591.5,1034.9 L1593.5,1033.1 L1595.5,1031.4 L1597.5,1029.7 L1599.5,1028.0 L1601.5,1026.4 L1603.5,1024.8 L1605.5,1023.2 L1607.5,1021.6 L1609.5,1020.0 L1611.5,1018.5 L1613.5,1017.1 L1615.5,1015.6 L1617.5,1014.2 L1619.5,1012.8 L1621.5,1011.5 L1623.5,1010.2 L1625.5,1009.0 L1627.5,1007.8 L1629.4,1006.6 L1631.4,1005.5 L1633.4,1004.5 L1635.4,1003.5 L1637.4,1002.6 L1639.3,1001.7 L1641.3,1000.8 L1643.3,1000.1 L1645.3,999.3 L1647.2,998.7 L1649.2,998.1 L1651.2,997.6 L1653.2,997.1 L1655.1,996.7 L1657.1,996.3 L1659.1,996.0 L1661.1,995.8 L1663.0,995.7 L1665.0,995.6 L1667.0,995.5 L1669.0,995.5 L1671.0,995.6 L1672.9,995.7 L1674.9,995.9 L1676.9,996.1 L1678.9,996.4 L1680.9,996.7 L1682.9,997.1 L1684.9,997.5 L1686.8,998.0 L1688.8,998.5 L1690.8,999.1 L1692.8,999.7 L1694.8,1000.4 L1696.8,1001.1 L1698.8,1001.9 L1700.8,1002.7 L1702.8,1003.6 L1704.8,1004.5 L1706.8,1005.4 L1708.8,1006.4 L1710.8,1007.4 L1712.8,1008.4 L1714.8,1009.5 L1716.8,1010.6 L1718.7,1011.7 L1720.7,1012.9 L1722.7,1014.1 L1724.7,1015.3 L1726.7,1016.6 L1728.7,1017.9 L1730.7,1019.2 L1732.7,1020.5 L1734.7,1021.9 L1736.8,1023.2 L1738.8,1024.6 L1740.8,1026.0 L1742.8,1027.4 L1744.8,1028.8 L1746.8,1030.3 L1748.8,1031.7 L1750.8,1033.2 L1752.8,1034.6 L1754.8,1036.1 L1756.8,1037.6 L1758.8,1039.1 L1760.8,1040.6 L1762.8,1042.0 L1764.8,1043.5 L1766.8,1045.0 L1768.8,1046.5 L1770.8,1048.0 L1772.8,1049.5 L1774.8,1051.0 L1776.8,1052.5 L1778.8,1053.9 L1780.8,1055.4 L1782.8,1056.9 L1784.8,1058.3 L1786.8,1059.8 L1788.9,1061.2 L1790.9,1062.6 L1792.9,1064.1 L1794.9,1065.5 L1796.9,1066.9 L1798.9,1068.2 L1800.9,1069.6 L1802.9,1071.0 L1804.9,1072.3 L1806.9,1073.6 L1808.9,1074.9 L1811.0,1076.2 L1813.0,1077.5 L1815.0,1078.8 L1817.0,1080.0 L1819.0,1081.3 L1821.0,1082.5 L1823.0,1083.7 L1825.0,1084.8 L1827.0,1086.0 L1829.0,1087.1 L1831.1,1088.2 L1833.1,1089.3 L1835.1,1090.4 L1837.1,1091.5 L1839.1,1092.5 L1841.1,1093.6 L1843.1,1094.6 L1845.1,1095.5 L1847.1,1096.5 L1849.1,1097.5 L1851.1,1098.4 L1853.2,1099.3 L1855.2,1100.2 L1857.2,1101.0 L1859.2,1101.9 L1861.2,1102.7 L1863.2,1103.5 L1865.2,1104.3 L1867.2,1105.1 L1869.2,1105.9 L1871.2,1106.6 L1873.2,1107.3 L1875.2,1108.0 L1877.2,1108.7 L1879.2,1109.4 L1881.2,1110.0 L1883.2,1110.6 L1885.2,1111.2 L1887.2,1111.8 L1889.3,1112.4 L1891.3,1113.0 L1893.3,1113.5 L1895.3,1114.1 L1897.3,1114.6 L1899.3,1115.1 L1901.3,1115.6 L1903.3,1116.0 L1905.3,1116.5 L1907.3,1116.9 L1909.3,1117.4 L1911.3,1117.8 L1913.3,1118.2 L1915.3,1118.6 L1917.2,1119.0 L1919.2,1119.3 L1921.2,1119.7 L1923.2,1120.0 L1925.2,1120.4 L1927.2,1120.7 L1929.2,1121.0 L1931.2,1121.3 L1933.2,1121.6 L1935.2,1121.9 L1937.2,1122.1 L1939.2,1122.4 L1941.2,1122.6 L1943.2,1122.9 L1945.2,1123.1 L1947.2,1123.3 L1949.2,1123.6 L1951.2,1123.8 L1953.2,1124.0 L1955.2,1124.2 L1957.2,1124.4 L1959.2,1124.5 L1961.2,1124.7 L1963.2,1124.9 L1965.2,1125.0 L1967.2,1125.2 L1969.2,1125.4 L1971.2,1125.5 L1973.2,1125.6 L1975.1,1125.8 L1977.1,1125.9 L1979.1,1126.0 L1981.1,1126.2 L1983.1,1126.3 L1985.1,1126.4 L1987.1,1126.5 L1989.1,1126.6 L1991.1,1126.7 L1993.1,1126.8 L1995.1,1126.9 L1997.1,1127.0 L1999.1,1127.1 L2001.1,1127.2 L2003.1,1127.3 L2005.1,1127.4 L2007.1,1127.5 L2009.1,1127.5 L2011.1,1127.6 L2013.1,1127.7 L2015.1,1127.8 L2017.1,1127.9 L2019.1,1127.9 L2021.1,1128.0 L2023.1,1128.1 L2025.1,1128.1 L2027.1,1128.2 L2029.1,1128.3 L2031.1,1128.4 L2033.1,1128.4 L2035.1,1128.5 L2037.1,1128.6 L2039.1,1128.6 L2041.1,1128.7 L2043.1,1128.7 L2045.1,1128.8 L2047.1,1128.9 L2049.0,1128.9 L2051.0,1129.0 L2053.0,1129.1 L2055.0,1129.1 L2057.0,1129.2 L2059.0,1129.3 L2061.0,1129.3 L2063.0,1129.4 L2065.0,1129.4 L2067.0,1129.5 L2069.0,1129.6 L2071.0,1129.6 L2073.0,1129.7 L2075.0,1129.8 L2077.0,1129.8 L2079.0,1129.9 L2081.0,1130.0 L2083.0,1130.0 L2085.0,1130.1 L2087.0,1130.1 L2089.0,1130.2 L2091.0,1130.3 L2093.0,1130.3 L2095.0,1130.4 L2097.0,1130.5 L2099.0,1130.5 L2101.0,1130.6 L2103.0,1130.6 L2105.0,1130.7 L2107.0,1130.7 L2109.0,1130.8 L2111.0,1130.9 L2113.0,1130.9 L2115.0,1131.0 L2117.0,1131.0 L2119.0,1131.1 L2121.0,1131.1 L2123.0,1131.2 L2125.0,1131.2 L2127.0,1131.3 L2129.0,1131.3 L2131.0,1131.4 L2133.0,1131.4 L2135.0,1131.5 L2137.0,1131.5 L2139.0,1131.6 L2141.0,1131.6 L2143.0,1131.7 L2145.0,1131.7 L2147.0,1131.7 L2149.0,1131.8 L2151.0,1131.8 L2153.0,1131.9 L2155.0,1131.9 L2157.0,1131.9 L2159.0,1132.0 L2161.0,1132.0 L2163.0,1132.0 L2165.0,1132.1 L2167.0,1132.1 L2169.0,1132.1 L2171.0,1132.2 L2173.0,1132.2 L2175.0,1132.2 L2177.0,1132.2 L2179.0,1132.3 L2181.0,1132.3 L2183.0,1132.3 L2185.0,1132.3 L2187.0,1132.4 L2189.0,1132.4 L2191.0,1132.4 L2193.0,1132.4 L2195.0,1132.4 L2197.0,1132.5 L2199.0,1132.5 L2201.0,1132.5 L2203.0,1132.5 L2205.0,1132.5 L2207.0,1132.6 L2209.0,1132.6 L2211.0,1132.6 L2213.0,1132.6 L2215.0,1132.6 L2217.0,1132.6 L2219.0,1132.6 L2221.0,1132.7 L2223.0,1132.7 L2225.0,1132.7 L2227.0,1132.7 L2229.0,1132.7 L2231.0,1132.7 L2233.0,1132.7 L2235.0,1132.8 L2237.0,1132.8 L2239.0,1132.8 L2241.0,1132.8 L2243.0,1132.8 L2245.0,1132.8 L2247.0,1132.8 L2249.0,1132.8 L2251.0,1132.8 L2253.0,1132.9 L2255.0,1132.9 L2257.0,1132.9 L2259.0,1132.9 L2261.0,1132.9 L2263.0,1132.9 L2265.0,1132.9 L2267.0,1132.9 L2269.0,1132.9 L2271.0,1132.9 L2273.0,1132.9 L2275.0,1133.0 L2277.0,1133.0 L2279.0,1133.0 L2281.0,1133.0 L2283.0,1133.0 L2285.0,1133.0 L2287.0,1133.0 L2289.0,1133.0 L2291.0,1133.0 L2293.0,1133.0 L2295.0,1133.0 L2297.0,1133.0 L2299.0,1133.0 L2301.0,1133.0 L2303.0,1133.1 L2305.0,1133.1 L2307.0,1133.1 L2309.0,1133.1 L2311.0,1133.1 L2313.0,1133.1 L2315.0,1133.1 L2317.0,1133.1 L2319.0,1133.1 L2321.0,1133.1 L2323.0,1133.1 L2325.0,1133.1 L2327.0,1133.1 L2329.0,1133.1 L2331.0,1133.1 L2333.0,1133.1 L2335.0,1133.2 L2337.0,1133.2 L2339.0,1133.2 L2341.0,1133.2 L2343.0,1133.2 L2345.0,1133.2 L2347.0,1133.2 L2349.0,1133.2 L2351.0,1133.2 L2353.0,1133.2 L2355.0,1133.2 L2357.0,1133.2 L2359.0,1133.2 L2361.0,1133.2 L2363.0,1133.2 L2365.0,1133.2 L2367.0,1133.2 L2369.0,1133.2 L2371.0,1133.2 L2373.0,1133.3 L2375.0,1133.3 L2376.0,1133.3" stroke="#ffff00"/>
<path d="M81.0,1211.7 L83.0,1211.7 L85.0,1211.7 L87.0,1211.7 L89.0,1211.7 L91.0,1211.7 L93.0,1211.7 L95.0,1211.7 L97.0,1211.6 L99.0,1211.6 L101.0,1211.6 L103.0,1211.6 L105.0,1211.6 L107.0,1211.6 L109.0,1211.6 L111.0,1211.6 L113.0,1211.6 L115.0,1211.6 L117.0,1211.6 L119.0,1211.5 L121.0,1211.5 L123.0,1211.5 L125.0,1211.5 L127.0,1211.5 L129.0,1211.5 L131.0,1211.5 L133.0,1211.5 L135.0,1211.5 L137.0,1211.4 L139.0,1211.4 L141.0,1211.4 L143.0,1211.4 L145.0,1211.4 L147.0,1211.4 L149.0,1211.4 L151.0,1211.4 L153.0,1211.4 L155.0,1211.3 L157.0,1211.3 L159.0,1211.3 L161.0,1211.3 L163.0,1211.3 L165.0,1211.3 L167.0,1211.3 L169.0,1211.3 L171.0,1211.3 L173.0,1211.2 L175.0,1211.2 L177.0,1211.2 L179.0,1211.2 L181.0,1211.2 L183.0,1211.2 L185.0,1211.2 L187.0,1211.1 L189.0,1211.1 L191.0,1211.1 L193.0,1211.1 L195.0,1211.1 L197.0,1211.1 L199.0,1211.1 L201.0,1211.0 L203.0,1211.0 L205.0,1211.0 L207.0,1211.0 L209.0,1211.0 L211.0,1211.0 L213.0,1211.0 L215.0,1210.9 L217.0,1210.9 L219.0,1210.9 L221.0,1210.9 L223.0,1210.9 L225.0,1210.8 L227.0,1210.8 L229.0,1210.8 L231.0,1210.8 L233.0,1210.8 L235.0,1210.8 L237.0,1210.7 L239.0,1210.7 L241.0,1210.7 L243.0,1210.7 L245.0,1210.7 L247.0,1210.6 L249.0,1210.6 L251.0,1210.6 L253.0,1210.6 L255.0,1210.5 L257.0,1210.5 L259.0,1210.5 L261.0,1210.5 L263.0,1210.5 L265.0,1210.4 L267.0,1210.4 L269.0,1210.4 L271.0,1210.4 L273.0,1210.3 L275.0,1210.3 L277.0,1210.3 L279.0,1210.3 L281.0,1210.2 L283.0,1210.2 L285.0,1210.2 L287.0,1210.2 L289.0,1210.1 L291.0,1210.1 L293.0,1210.1 L295.0,1210.0 L297.0,1210.0 L299.0,1210.0 L301.0,1210.0 L303.0,1209.9 L305.0,1209.9 L307.0,1209.9 L309.0,1209.9 L311.0,1209.8 L313.0,1209.8 L315.0,1209.8 L317.0,1209.7 L319.0,1209.7 L321.0,1209.7 L323.0,1209.6 L325.0,1209.6 L327.0,1209.6 L329.0,1209.6 L331.0,1209.5 L333.0,1209.5 L335.0,1209.5 L337.0,1209.4 L339.0,1209.4 L341.0,1209.4 L343.0,1209.4 L345.0,1209.3 L347.0,1209.3 L349.0,1209.3 L351.0,1209.2 L353.0,1209.2 L355.0,1209.2 L357.0,1209.1 L359.0,1209.1 L361.0,1209.1 L363.0,1209.1 L365.0,1209.0 L367.0,1209.0 L369.0,1209.0 L371.0,1208.9 L373.0,1208.9 L375.0,1208.9 L377.0,1208.9 L379.0,1208.8 L381.0,1208.8 L383.0,1208.8 L385.0,1208.7 L387.0,1208.7 L389.0,1208.7 L391.0,1208.7 L393.0,1208.6 L395.0,1208.6 L397.0,1208.6 L399.0,1208.6 L401.0,1208.5 L403.0,1208.5 L405.0,1208.5 L407.0,1208.4 L409.0,1208.4 L411.0,1208.4 L413.0,1208.4 L415.0,1208.3 L417.0,1208.3 L419.0,1208.3 L421.0,1208.3 L423.0,1208.2 L425.0,1208.2 L427.0,1208.2 L429.0,1208.2 L431.0,1208.1 L433.0,1208.1 L435.0,1208.1 L437.0,1208.1 L439.0,1208.0 L441.0,1208.0 L443.0,1208.0 L445.0,1208.0 L447.0,1207.9 L449.0,1207.9 L451.0,1207.9 L453.0,1207.9 L455.0,1207.9 L457.0,1207.8 L459.0,1207.8 L461.0,1207.8 L463.0,1207.8 L465.0,1207.7 L467.0,1207.7 L469.0,1207.7 L471.0,1207.7 L473.0,1207.7 L475.0,1207.6 L477.0,1207.6 L479.0,1207.6 L481.0,1207.6 L483.0,1207.5 L485.0,1207.5 L487.0,1207.5 L489.0,1207.5 L491.0,1207.5 L493.0,1207.4 L495.0,1207.4 L497.0,1207.4 L499.0,1207.4 L501.0,1207.4 L503.0,1207.3 L505.0,1207.3 L507.0,1207.3 L509.0,1207.3 L511.0,1207.3 L513.0,1207.2 L515.0,1207.2 L517.0,1207.2 L519.0,1207.2 L521.0,1207.1 L523.0,1207.1 L525.0,1207.1 L527.0,1207.1 L529.0,1207.1 L531.0,1207.0 L533.0,1207.0 L535.0,1207.0 L537.0,1207.0 L539.0,1207.0 L541.0,1206.9 L543.0,1206.9 L545.0,1206.9 L547.0,1206.9 L549.0,1206.8 L551.0,1206.8 L553.0,1206.8 L555.0,1206.8 L557.0,1206.7 L559.0,1206.7 L561.0,1206.7 L563.0,1206.7 L565.0,1206.6 L567.0,1206.6 L569.0,1206.6 L571.0,1206.5 L573.0,1206.5 L575.0,1206.5 L577.0,1206.4 L579.0,1206.4 L581.0,1206.4 L583.0,1206.3 L585.0,1206.3 L587.0,1206.3 L589.0,1206.2 L591.0,1206.2 L593.0,1206.2 L595.0,1206.1 L597.0,1206.1 L599.0,1206.1 L601.0,1206.0 L603.0,1206.0 L605.0,1205.9 L607.0,1205.9 L609.0,1205.8 L611.0,1205.8 L613.0,1205.8 L615.0,1205.7 L617.0,1205.7 L619.0,1205.6 L621.0,1205.6 L623.0,1205.5 L625.0,1205.5 L627.0,1205.4 L629.0,1205.4 L631.0,1205.3 L633.0,1205.2 L635.0,1205.2 L637.0,1205.1 L639.0,1205.1 L641.0,1205.0 L643.0,1204.9 L645.0,1204.9 L647.0,1204.8 L649.0,1204.8 L651.0,1204.7 L653.0,1204.6 L655.0,1204.5 L657.0,1204.5 L659.0,1204.4 L661.0,1204.3 L663.0,1204.3 L665.1,1204.2 L667.1,1204.1 L669.1,1204.0 L671.1,1203.9 L673.1,1203.9 L675.1,1203.8 L677.1,1203.7 L679.1,1203.6 L681.1,1203.5 L683.1,1203.4 L685.1,1203.3 L687.1,1203.2 L689.1,1203.1 L691.1,1203.0 L693.1,1202.9 L695.1,1202.8 L697.1,1202.7 L699.1,1202.6 L701.1,1202.5 L703.1,1202.4 L705.1,1202.3 L707.1,1202.2 L709.1,1202.0 L711.1,1201.9 L713.1,1201.8 L715.1,1201.7 L717.1,1201.5 L719.1,1201.4 L721.1,1201.3 L723.1,1201.1 L725.1,1201.0 L727.1,1200.9 L729.1,1200.7 L731.1,1200.6 L733.1,1200.4 L735.1,1200.3 L737.1,1200.1 L739.1,1199.9 L741.1,1199.8 L743.1,1199.6 L745.1,1199.4 L747.1,1199.2 L749.1,1199.1 L751.1,1198.9 L753.1,1198.7 L755.1,1198.5 L757.1,1198.3 L759.1,1198.1 L761.1,1197.8 L763.1,1197.6 L765.1,1197.4 L767.2,1197.2 L769.2,1196.9 L771.2,1196.7 L773.2,1196.4 L775.2,1196.1 L777.2,1195.9 L779.2,1195.6 L781.2,1195.3 L783.2,1195.0 L785.2,1194.7 L787.2,1194.4 L789.2,1194.0 L791.2,1193.7 L793.2,1193.3 L795.2,1192.9 L797.2,1192.6 L799.2,1192.2 L801.2,1191.7 L803.3,1191.3 L805.3,1190.9 L807.3,1190.4 L809.3,1189.9 L811.3,1189.4 L813.3,1188.9 L815.3,1188.4 L817.3,1187.8 L819.3,1187.2 L821.3,1186.6 L823.3,1186.0 L825.3,1185.4 L827.4,1184.7 L829.4,1184.0 L831.4,1183.2 L833.4,1182.5 L835.4,1181.7 L837.4,1180.9 L839.4,1180.0 L841.4,1179.1 L843.4,1178.2 L845.4,1177.2 L847.4,1176.2 L849.4,1175.1 L851.5,1174.0 L853.5,1172.9 L855.5,1171.7 L857.5,1170.5 L859.5,1169.2 L861.5,1167.9 L863.5,1166.5 L865.5,1165.0 L867.5,1163.6 L869.5,1162.0 L871.5,1160.4 L873.5,1158.7 L875.5,1157.0 L877.5,1155.2 L879.5,1153.3 L881.5,1151.4 L883.4,1149.3 L885.4,1147.3 L887.4,1145.1 L889.4,1142.8 L891.4,1140.5 L893.4,1138.1 L895.3,1135.6 L897.3,1133.0 L899.3,1130.4 L901.2,1127.6 L903.2,1124.7 L905.2,1121.8 L907.1,1118.7 L909.1,1115.6 L911.0,1112.3 L913.0,1109.0 L915.0,1105.5 L916.9,1101.9 L918.8,1098.3 L920.8,1094.5 L922.7,1090.5 L924.7,1086.5 L926.6,1082.4 L928.5,1078.1 L930.4,1073.7 L932.4,1069.2 L934.3,1064.5 L936.2,1059.8 L938.1,1054.9 L940.1,1049.9 L942.0,1044.7 L943.9,1039.4 L945.8,1034.0 L947.8,1028.5 L949.7,1022.8 L951.6,1017.0 L953.6,1011.1 L955.5,1005.0 L957.5,998.8 L959.4,992.5 L961.4,986.0 L963.4,979.4 L965.3,972.7 L967.3,965.8 L969.3,958.8 L971.3,951.7 L973.4,944.4 L975.4,937.1 L977.4,929.6 L979.4,921.9 L981.5,914.2 L983.5,906.3 L985.5,898.3 L987.6,890.2 L989.6,882.0 L991.6,873.7 L993.7,865.3 L995.7,856.7 L997.7,848.1 L999.7,839.4 L1001.7,830.5 L1003.7,821.6 L1005.7,812.7 L1007.7,803.6 L1009.7,794.5 L1011.7,785.3 L1013.8,776.0 L1015.8,766.7 L1017.8,757.4 L1019.9,748.0 L1021.9,738.6 L1024.0,729.2 L1026.1,719.7 L1028.1,710.3 L1030.2,700.8 L1032.3,691.4 L1034.5,681.9 L1036.6,672.5 L1038.7,663.1 L1040.9,653.8 L1043.1,644.5 L1045.2,635.2 L1047.4,626.0 L1049.6,616.9 L1051.8,607.9 L1053.9,599.0 L1056.1,590.2 L1058.3,581.5 L1060.5,572.9 L1062.6,564.4 L1064.8,556.1 L1066.9,547.9 L1069.0,539.9 L1071.1,532.0 L1073.2,524.4 L1075.3,516.9 L1077.3,509.7 L1079.4,502.6 L1081.4,495.8 L1083.5,489.2 L1085.5,482.8 L1087.5,476.7 L1089.5,470.9 L1091.5,465.3 L1093.4,459.8 L1095.2,454.5 L1097.1,449.4 L1098.9,444.7 L1100.6,440.2 L1102.4,436.1 L1104.2,432.3 L1105.9,428.9 L1107.8,425.9 L1109.6,423.2 L1111.5,420.9 L1113.3,419.0 L1115.2,417.4 L1117.2,416.3 L1119.1,415.5 L1121.0,415.1 L1123.0,415.1 L1124.9,415.5 L1126.9,416.2 L1128.9,417.3 L1130.8,418.8 L1132.8,420.6 L1134.7,422.8 L1136.6,425.4 L1138.5,428.3 L1140.4,431.6 L1142.2,435.2 L1144.0,439.2 L1145.9,443.4 L1147.7,448.0 L1149.5,452.8 L1151.4,458.0 L1153.3,463.4 L1155.3,468.7 L1157.3,474.2 L1159.3,480.0 L1161.4,486.0 L1163.4,492.3 L1165.5,498.7 L1167.5,505.4 L1169.6,512.3 L1171.7,519.3 L1173.7,526.5 L1175.8,533.9 L1177.9,541.5 L1179.9,549.2 L1182.0,557.0 L1184.1,565.0 L1186.2,573.0 L1188.2,581.2 L1190.3,589.5 L1192.4,597.9 L1194.5,606.4 L1196.6,614.9 L1198.6,623.5 L1200.7,632.1 L1202.8,640.8 L1204.9,649.6 L1206.9,658.4 L1209.0,667.1 L1211.0,676.0 L1213.1,684.8 L1215.1,693.6 L1217.2,702.4 L1219.2,711.2 L1221.3,720.0 L1223.3,728.7 L1225.3,737.4 L1227.4,746.1 L1229.4,754.7 L1231.4,763.3 L1233.4,771.8 L1235.5,780.3 L1237.5,788.7 L1239.5,797.0 L1241.5,805.3 L1243.5,813.4 L1245.5,821.5 L1247.5,829.5 L1249.4,837.4 L1251.4,845.3 L1253.4,853.0 L1255.3,860.6 L1257.3,868.1 L1259.2,875.5 L1261.1,882.8 L1263.1,890.0 L1265.0,897.1 L1266.9,904.1 L1268.9,910.9 L1270.8,917.6 L1272.7,924.2 L1274.7,930.7 L1276.6,937.1 L1278.6,943.3 L1280.5,949.4 L1282.5,955.4 L1284.5,961.2 L1286.4,967.0 L1288.4,972.6 L1290.4,978.0 L1292.5,983.4 L1294.5,988.6 L1296.5,993.7 L1298.5,998.6 L1300.6,1003.5 L1302.6,1008.2 L1304.7,1012.8 L1306.7,1017.2 L1308.8,1021.6 L1310.8,1025.8 L1312.9,1029.9 L1314.9,1033.9 L1317.0,1037.8 L1319.0,1041.5 L1321.1,1045.2 L1323.2,1048.7 L1325.2,1052.2 L1327.2,1055.5 L1329.3,1058.7 L1331.3,1061.8 L1333.4,1064.9 L1335.4,1067.8 L1337.5,1070.6 L1339.5,1073.4 L1341.5,1076.0 L1343.6,1078.6 L1345.6,1081.1 L1347.6,1083.5 L1349.6,1085.8 L1351.6,1088.0 L1353.7,1090.1 L1355.7,1092.2 L1357.7,1094.2 L1359.7,1096.1 L1361.7,1098.0 L1363.7,1099.8 L1365.7,1101.5 L1367.7,1103.2 L1369.7,1104.8 L1371.7,1106.3 L1373.7,1107.8 L1375.7,1109.2 L1377.7,1110.6 L1379.7,1111.9 L1381.7,1113.2 L1383.7,1114.4 L1385.7,1115.5 L1387.7,1116.7 L1389.6,1117.7 L1391.6,1118.8 L1393.6,1119.8 L1395.6,1120.7 L1397.6,1121.7 L1399.6,1122.5 L1401.6,1123.4 L1403.5,1124.2 L1405.5,1125.0 L1407.5,1125.7 L1409.5,1126.5 L1411.5,1127.1 L1413.5,1127.8 L1415.4,1128.5 L1417.4,1129.1 L1419.4,1129.7 L1421.4,1130.2 L1423.4,1130.8 L1425.4,1131.3 L1427.4,1131.8 L1429.3,1132.3 L1431.3,1132.7 L1433.3,1133.2 L1435.3,1133.6 L1437.3,1134.0 L1439.3,1134.4 L1441.3,1134.8 L1443.3,1135.1 L1445.3,1135.5 L1447.2,1135.8 L1449.2,1136.1 L1451.2,1136.4 L1453.2,1136.7 L1455.2,1137.0 L1457.2,1137.3 L1459.2,1137.6 L1461.2,1137.8 L1463.2,1138.1 L1465.2,1138.3 L1467.2,1138.5 L1469.2,1138.8 L1471.1,1139.0 L1473.1,1139.2 L1475.1,1139.4 L1477.1,1139.6 L1479.1,1139.7 L1481.1,1139.9 L1483.1,1140.1 L1485.1,1140.2 L1487.1,1140.4 L1489.1,1140.5 L1491.1,1140.7 L1493.1,1140.8 L1495.1,1140.9 L1497.1,1141.1 L1499.1,1141.2 L1501.1,1141.3 L1503.1,1141.4 L1505.1,1141.5 L1507.1,1141.6 L1509.1,1141.7 L1511.1,1141.8 L1513.1,1141.9 L1515.1,1141.9 L1517.0,1142.0 L1519.0,1142.1 L1521.0,1142.1 L1523.0,1142.2 L1525.0,1142.3 L1527.0,1142.3 L1529.0,1142.4 L1531.0,1142.4 L1533.0,1142.4 L1535.0,1142.5 L1537.0,1142.5 L1539.0,1142.5 L1541.0,1142.6 L1543.0,1142.6 L1545.0,1142.6 L1547.0,1142.6 L1549.0,1142.6 L1551.0,1142.6 L1553.0,1142.6 L1555.0,1142.6 L1557.0,1142.6 L1559.0,1142.6 L1561.0,1142.6 L1563.0,1142.6 L1565.0,1142.5 L1567.0,1142.5 L1569.0,1142.5 L1571.0,1142.4 L1573.0,1142.4 L1575.0,1142.4 L1577.0,1142.3 L1579.0,1142.3 L1581.0,1142.2 L1583.0,1142.2 L1585.0,1142.1 L1587.0,1142.0 L1589.0,1142.0 L1591.0,1141.9 L1593.0,1141.9 L1594.9,1141.8 L1596.9,1141.7 L1598.9,1141.6 L1600.9,1141.5 L1602.9,1141.5 L1604.9,1141.4 L1606.9,1141.3 L1608.9,1141.2 L1610.9,1141.1 L1612.9,1141.0 L1614.9,1140.9 L1616.9,1140.8 L1618.9,1140.7 L1620.9,1140.6 L1622.9,1140.5 L1624.9,1140.4 L1626.9,1140.3 L1628.9,1140.2 L1630.9,1140.1 L1632.9,1139.9 L1634.9,1139.8 L1636.9,1139.7 L1638.9,1139.6 L1640.9,1139.5 L1642.9,1139.3 L1644.9,1139.2 L1646.9,1139.1 L1648.9,1139.0 L1650.9,1138.8 L1652.9,1138.7 L1654.9,1138.6 L1656.9,1138.4 L1658.9,1138.3 L1660.9,1138.2 L1662.9,1138.1 L1664.9,1137.9 L1666.9,1137.8 L1668.8,1137.7 L1670.8,1137.5 L1672.8,1137.4 L1674.8,1137.3 L1676.8,1137.1 L1678.8,1137.0 L1680.8,1136.9 L1682.8,1136.7 L1684.8,1136.6 L1686.8,1136.5 L1688.8,1136.3 L1690.8,1136.2 L1692.8,1136.1 L1694.8,1135.9 L1696.8,1135.8 L1698.8,1135.7 L1700.8,1135.5 L1702.8,1135.4 L1704.8,1135.3 L1706.8,1135.2 L1708.8,1135.0 L1710.8,1134.9 L1712.8,1134.8 L1714.8,1134.7 L1716.8,1134.6 L1718.8,1134.4 L1720.8,1134.3 L1722.9,1134.2 L1724.9,1134.1 L1726.9,1134.0 L1728.9,1133.9 L1730.9,1133.8 L1732.9,1133.7 L1734.9,1133.6 L1736.9,1133.5 L1738.9,1133.4 L1740.9,1133.3 L1742.9,1133.2 L1744.9,1133.1 L1746.9,1133.0 L1748.9,1132.9 L1750.9,1132.8 L1752.9,1132.7 L1754.9,1132.6 L1756.9,1132.6 L1758.9,1132.5 L1760.9,1132.4 L1762.9,1132.3 L1764.9,1132.3 L1766.9,1132.2 L1768.9,1132.1 L1770.9,1132.1 L1772.9,1132.0 L1774.9,1131.9 L1776.9,1131.9 L1778.9,1131.8 L1780.9,1131.8 L1782.9,1131.7 L1784.9,1131.7 L1786.9,1131.6 L1788.9,1131.6 L1790.9,1131.5 L1792.9,1131.5 L1794.9,1131.5 L1796.9,1131.4 L1798.9,1131.4 L1800.9,1131.4 L1802.9,1131.3 L1805.0,1131.3 L1807.0,1131.3 L1809.0,1131.3 L1811.0,1131.2 L1813.0,1131.2 L1815.0,1131.2 L1817.0,1131.2 L1819.0,1131.2 L1821.0,1131.2 L1823.0,1131.1 L1825.0,1131.1 L1827.0,1131.1 L1829.0,1131.1 L1831.0,1131.1 L1833.0,1131.1 L1835.0,1131.1 L1837.0,1131.1 L1839.0,1131.1 L1841.0,1131.1 L1843.0,1131.1 L1845.0,1131.1 L1847.0,1131.1 L1849.0,1131.1 L1851.0,1131.1 L1853.0,1131.1 L1855.0,1131.2 L1857.0,1131.2 L1859.0,1131.2 L1861.0,1131.2 L1863.0,1131.2 L1865.0,1131.2 L1867.0,1131.2 L1869.0,1131.2 L1871.0,1131.3 L1873.0,1131.3 L1875.0,1131.3 L1877.0,1131.3 L1879.0,1131.3 L1881.0,1131.3 L1883.0,1131.4 L1885.0,1131.4 L1887.0,1131.4 L1889.0,1131.4 L1891.0,1131.4 L1893.0,1131.4 L1895.0,1131.5 L1897.0,1131.5 L1899.0,1131.5 L1901.0,1131.5 L1903.0,1131.5 L1905.0,1131.6 L1907.0,1131.6 L1909.0,1131.6 L1911.0,1131.6 L1913.0,1131.7 L1915.0,1131.7 L1917.0,1131.7 L1919.0,1131.7 L1921.0,1131.7 L1923.0,1131.8 L1925.0,1131.8 L1927.0,1131.8 L1929.0,1131.8 L1931.0,1131.9 L1933.0,1131.9 L1935.0,1131.9 L1937.0,1131.9 L1939.0,1131.9 L1941.0,1132.0 L1943.0,1132.0 L1945.0,1132.0 L1947.0,1132.0 L1949.0,1132.1 L1951.0,1132.1 L1953.0,1132.1 L1955.0,1132.1 L1957.0,1132.1 L1959.0,1132.2 L1961.0,1132.2 L1963.0,1132.2 L1965.0,1132.2 L1967.0,1132.3 L1969.0,1132.3 L1971.0,1132.3 L1973.0,1132.3 L1975.0,1132.3 L1977.0,1132.4 L1979.0,1132.4 L1981.0,1132.4 L1983.0,1132.4 L1985.0,1132.4 L1987.0,1132.5 L1989.0,1132.5 L1991.0,1132.5 L1993.0,1132.5 L1995.0,1132.5 L1997.0,1132.6 L1999.0,1132.6 L2001.0,1132.6 L2003.0,1132.6 L2005.0,1132.6 L2007.0,1132.7 L2009.0,1132.7 L2011.0,1132.7 L2013.0,1132.7 L2015.0,1132.7 L2017.0,1132.8 L2019.0,1132.8 L2021.0,1132.8 L2023.0,1132.8 L2025.0,1132.8 L2027.0,1132.8 L2029.0,1132.9 L2031.0,1132.9 L2033.0,1132.9 L2035.0,1132.9 L2037.0,1132.9 L2039.0,1132.9 L2041.0,1132.9 L2043.0,1133.0 L2045.0,1133.0 L2047.0,1133.0 L2049.0,1133.0 L2051.0,1133.0 L2053.0,1133.0 L2055.0,1133.0 L2057.0,1133.1 L2059.0,1133.1 L2061.0,1133.1 L2063.0,1133.1 L2065.0,1133.1 L2067.0,1133.1 L2069.0,1133.1 L2071.0,1133.1 L2073.0,1133.1 L2075.0,1133.2 L2077.0,1133.2 L2079.0,1133.2 L2081.0,1133.2 L2083.0,1133.2 L2085.0,1133.2 L2087.0,1133.2 L2089.0,1133.2 L2091.0,1133.2 L2093.0,1133.2 L2095.0,1133.3 L2097.0,1133.3 L2099.0,1133.3 L2101.0,1133.3 L2103.0,1133.3 L2105.0,1133.3 L2107.0,1133.3 L2109.0,1133.3 L2111.0,1133.3 L2113.0,1133.3 L2115.0,1133.3 L2117.0,1133.3 L2119.0,1133.4 L2121.0,1133.4 L2123.0,1133.4 L2125.0,1133.4 L2127.0,1133.4 L2129.0,1133.4 L2131.0,1133.4 L2133.0,1133.4 L2135.0,1133.4 L2137.0,1133.4 L2139.0,1133.4 L2141.0,1133.5 L2143.0,1133.5 L2145.0,1133.5 L2147.0,1133.5 L2149.0,1133.5 L2151.0,1133.5 L2153.0,1133.5 L2155.0,1133.5 L2157.0,1133.5 L2159.0,1133.5 L2161.0,1133.6 L2163.0,1133.6 L2165.0,1133.6 L2167.0,1133.6 L2169.0,1133.6 L2171.0,1133.6 L2173.0,1133.6 L2175.0,1133.6 L2177.0,1133.6 L2179.0,1133.7 L2181.0,1133.7 L2183.0,1133.7 L2185.0,1133.7 L2187.0,1133.7 L2189.0,1133.7 L2191.0,1133.7 L2193.0,1133.8 L2195.0,1133.8 L2197.0,1133.8 L2199.0,1133.8 L2201.0,1133.8 L2203.0,1133.8 L2205.0,1133.8 L2207.0,1133.9 L2209.0,1133.9 L2211.0,1133.9 L2213.0,1133.9 L2215.0,1133.9 L2217.0,1133.9 L2219.0,1133.9 L2221.0,1133.9 L2223.0,1134.0 L2225.0,1134.0 L2227.0,1134.0 L2229.0,1134.0 L2231.0,1134.0 L2233.0,1134.0 L2235.0,1134.0 L2237.0,1134.1 L2239.0,1134.1 L2241.0,1134.1 L2243.0,1134.1 L2245.0,1134.1 L2247.0,1134.1 L2249.0,1134.1 L2251.0,1134.1 L2253.0,1134.2 L2255.0,1134.2 L2257.0,1134.2 L2259.0,1134.2 L2261.0,1134.2 L2263.0,1134.2 L2265.0,1134.2 L2267.0,1134.2 L2269.0,1134.2 L2271.0,1134.2 L2273.0,1134.3 L2275.0,1134.3 L2277.0,1134.3 L2279.0,1134.3 L2281.0,1134.3 L2283.0,1134.3 L2285.0,1134.3 L2287.0,1134.3 L2289.0,1134.3 L2291.0,1134.3 L2293.0,1134.3 L2295.0,1134.3 L2297.0,1134.3 L2299.0,1134.3 L2301.0,1134.4 L2303.0,1134.4 L2305.0,1134.4 L2307.0,1134.4 L2309.0,1134.4 L2311.0,1134.4 L2313.0,1134.4 L2315.0,1134.4 L2317.0,1134.4 L2319.0,1134.4 L2321.0,1134.4 L2323.0,1134.4 L2325.0,1134.4 L2327.0,1134.4 L2329.0,1134.4 L2331.0,1134.4 L2333.0,1134.4 L2335.0,1134.4 L2337.0,1134.4 L2339.0,1134.4 L2341.0,1134.4 L2343.0,1134.4 L2345.0,1134.4 L2347.0,1134.4 L2349.0,1134.4 L2351.0,1134.4 L2353.0,1134.4 L2355.0,1134.4 L2357.0,1134.4 L2359.0,1134.4 L2361.0,1134.4 L2363.0,1134.4 L2365.0,1134.3 L2367.0,1134.3 L2369.0,1134.3 L2371.0,1134.3 L2373.0,1134.3 L2375.0,1134.3 L2376.0,1134.3" stroke="#00b0f0"/>
<path d="M81.0,1215.0 L83.0,1215.0 L85.0,1215.0 L87.0,1214.9 L89.0,1214.9 L91.0,1214.9 L93.0,1214.9 L95.0,1214.9 L97.0,1214.9 L99.0,1214.9 L101.0,1214.9 L103.0,1214.9 L105.0,1214.9 L107.0,1214.9 L109.0,1214.9 L111.0,1214.9 L113.0,1214.9 L115.0,1214.9 L117.0,1214.9 L119.0,1214.9 L121.0,1214.9 L123.0,1214.9 L125.0,1214.9 L127.0,1214.9 L129.0,1214.9 L131.0,1214.9 L133.0,1214.9 L135.0,1214.9 L137.0,1214.9 L139.0,1214.8 L141.0,1214.8 L143.0,1214.8 L145.0,1214.8 L147.0,1214.8 L149.0,1214.8 L151.0,1214.8 L153.0,1214.8 L155.0,1214.8 L157.0,1214.8 L159.0,1214.8 L161.0,1214.8 L163.0,1214.7 L165.0,1214.7 L167.0,1214.7 L169.0,1214.7 L171.0,1214.7 L173.0,1214.7 L175.0,1214.7 L177.0,1214.7 L179.0,1214.7 L181.0,1214.7 L183.0,1214.6 L185.0,1214.6 L187.0,1214.6 L189.0,1214.6 L191.0,1214.6 L193.0,1214.6 L195.0,1214.6 L197.0,1214.6 L199.0,1214.5 L201.0,1214.5 L203.0,1214.5 L205.0,1214.5 L207.0,1214.5 L209.0,1214.5 L211.0,1214.5 L213.0,1214.5 L215.0,1214.4 L217.0,1214.4 L219.0,1214.4 L221.0,1214.4 L223.0,1214.4 L225.0,1214.4 L227.0,1214.4 L229.0,1214.3 L231.0,1214.3 L233.0,1214.3 L235.0,1214.3 L237.0,1214.3 L239.0,1214.3 L241.0,1214.2 L243.0,1214.2 L245.0,1214.2 L247.0,1214.2 L249.0,1214.2 L251.0,1214.2 L253.0,1214.1 L255.0,1214.1 L257.0,1214.1 L259.0,1214.1 L261.0,1214.1 L263.0,1214.1 L265.0,1214.0 L267.0,1214.0 L269.0,1214.0 L271.0,1214.0 L273.0,1214.0 L275.0,1214.0 L277.0,1213.9 L279.0,1213.9 L281.0,1213.9 L283.0,1213.9 L285.0,1213.9 L287.0,1213.8 L289.0,1213.8 L291.0,1213.8 L293.0,1213.8 L295.0,1213.8 L297.0,1213.7 L299.0,1213.7 L301.0,1213.7 L303.0,1213.7 L305.0,1213.7 L307.0,1213.7 L309.0,1213.6 L311.0,1213.6 L313.0,1213.6 L315.0,1213.6 L317.0,1213.6 L319.0,1213.5 L321.0,1213.5 L323.0,1213.5 L325.0,1213.5 L327.0,1213.5 L329.0,1213.4 L331.0,1213.4 L333.0,1213.4 L335.0,1213.4 L337.0,1213.4 L339.0,1213.4 L341.0,1213.3 L343.0,1213.3 L345.0,1213.3 L347.0,1213.3 L349.0,1213.3 L351.0,1213.3 L353.0,1213.2 L355.0,1213.2 L357.0,1213.2 L359.0,1213.2 L361.0,1213.2 L363.0,1213.2 L365.0,1213.2 L367.0,1213.2 L369.0,1213.1 L371.0,1213.1 L373.0,1213.1 L375.0,1213.1 L377.0,1213.1 L379.0,1213.1 L381.0,1213.1 L383.0,1213.1 L385.0,1213.1 L387.0,1213.1 L389.0,1213.1 L391.0,1213.1 L393.0,1213.1 L395.0,1213.0 L397.0,1213.0 L399.0,1213.0 L401.0,1213.0 L403.0,1213.0 L405.0,1213.0 L407.0,1213.0 L409.0,1213.0 L411.0,1213.0 L413.0,1213.0 L415.0,1213.0 L417.0,1213.0 L419.0,1213.0 L421.0,1213.1 L423.0,1213.1 L425.0,1213.1 L427.0,1213.1 L429.0,1213.1 L431.0,1213.1 L433.0,1213.1 L435.0,1213.1 L437.0,1213.1 L439.0,1213.1 L441.0,1213.1 L443.0,1213.1 L445.0,1213.1 L447.0,1213.1 L449.0,1213.1 L451.0,1213.2 L453.0,1213.2 L455.0,1213.2 L457.0,1213.2 L459.0,1213.2 L461.0,1213.2 L463.0,1213.2 L465.0,1213.2 L467.0,1213.2 L469.0,1213.2 L471.0,1213.3 L473.0,1213.3 L475.0,1213.3 L477.0,1213.3 L479.0,1213.3 L481.0,1213.3 L483.0,1213.3 L485.0,1213.3 L487.0,1213.3 L489.0,1213.3 L491.0,1213.4 L493.0,1213.4 L495.0,1213.4 L497.0,1213.4 L499.0,1213.4 L501.0,1213.4 L503.0,1213.4 L505.0,1213.4 L507.0,1213.4 L509.0,1213.4 L511.0,1213.4 L513.0,1213.4 L515.0,1213.5 L517.0,1213.5 L519.0,1213.5 L521.0,1213.5 L523.0,1213.5 L525.0,1213.5 L527.0,1213.5 L529.0,1213.5 L531.0,1213.5 L533.0,1213.5 L535.0,1213.5 L537.0,1213.5 L539.0,1213.5 L541.0,1213.5 L543.0,1213.5 L545.0,1213.5 L547.0,1213.5 L549.0,1213.5 L551.0,1213.5 L553.0,1213.5 L555.0,1213.5 L557.0,1213.5 L559.0,1213.5 L561.0,1213.5 L563.0,1213.5 L565.0,1213.5 L567.0,1213.5 L569.0,1213.5 L571.0,1213.5 L573.0,1213.5 L575.0,1213.5 L577.0,1213.5 L579.0,1213.5 L581.0,1213.5 L583.0,1213.5 L585.0,1213.5 L587.0,1213.5 L589.0,1213.5 L591.0,1213.5 L593.0,1213.5 L595.0,1213.5 L597.0,1213.5 L599.0,1213.5 L601.0,1213.5 L603.0,1213.5 L605.0,1213.5 L607.0,1213.5 L609.0,1213.5 L611.0,1213.4 L613.0,1213.4 L615.0,1213.4 L617.0,1213.4 L619.0,1213.4 L621.0,1213.4 L623.0,1213.4 L625.0,1213.4 L627.0,1213.4 L629.0,1213.4 L631.0,1213.4 L633.0,1213.3 L635.0,1213.3 L637.0,1213.3 L639.0,1213.3 L641.0,1213.3 L643.0,1213.3 L645.0,1213.3 L647.0,1213.3 L649.0,1213.3 L651.0,1213.3 L653.0,1213.2 L655.0,1213.2 L657.0,1213.2 L659.0,1213.2 L661.0,1213.2 L663.0,1213.2 L665.0,1213.2 L667.0,1213.2 L669.0,1213.1 L671.0,1213.1 L673.0,1213.1 L675.0,1213.1 L677.0,1213.1 L679.0,1213.1 L681.0,1213.1 L683.0,1213.1 L685.0,1213.0 L687.0,1213.0 L689.0,1213.0 L691.0,1213.0 L693.0,1213.0 L695.0,1213.0 L697.0,1213.0 L699.0,1213.0 L701.0,1212.9 L703.0,1212.9 L705.0,1212.9 L707.0,1212.9 L709.0,1212.9 L711.0,1212.9 L713.0,1212.9 L715.0,1212.8 L717.0,1212.8 L719.0,1212.8 L721.0,1212.8 L723.0,1212.8 L725.0,1212.8 L727.0,1212.8 L729.0,1212.7 L731.0,1212.7 L733.0,1212.7 L735.0,1212.7 L737.0,1212.7 L739.0,1212.7 L741.0,1212.6 L743.0,1212.6 L745.0,1212.6 L747.0,1212.6 L749.0,1212.6 L751.0,1212.6 L753.0,1212.5 L755.0,1212.5 L757.0,1212.5 L759.0,1212.5 L761.0,1212.5 L763.0,1212.4 L765.0,1212.4 L767.0,1212.4 L769.0,1212.4 L771.0,1212.3 L773.0,1212.3 L775.0,1212.3 L777.0,1212.3 L779.0,1212.2 L781.0,1212.2 L783.0,1212.2 L785.0,1212.2 L787.0,1212.1 L789.0,1212.1 L791.0,1212.1 L793.0,1212.1 L795.0,1212.0 L797.0,1212.0 L799.0,1212.0 L801.0,1211.9 L803.0,1211.9 L805.0,1211.9 L807.0,1211.8 L809.0,1211.8 L811.0,1211.7 L813.0,1211.7 L815.0,1211.7 L817.0,1211.6 L819.0,1211.6 L821.0,1211.5 L823.0,1211.5 L825.0,1211.5 L827.0,1211.4 L829.0,1211.4 L831.0,1211.3 L833.0,1211.3 L835.0,1211.2 L837.0,1211.2 L839.0,1211.1 L841.0,1211.0 L843.0,1211.0 L845.0,1210.9 L847.0,1210.9 L849.0,1210.8 L851.0,1210.7 L853.0,1210.7 L855.0,1210.6 L857.0,1210.5 L859.0,1210.5 L861.0,1210.4 L863.0,1210.3 L865.0,1210.2 L867.0,1210.2 L869.1,1210.1 L871.1,1210.0 L873.1,1209.9 L875.1,1209.8 L877.1,1209.7 L879.1,1209.6 L881.1,1209.5 L883.1,1209.4 L885.1,1209.3 L887.1,1209.2 L889.1,1209.1 L891.1,1209.0 L893.1,1208.9 L895.1,1208.8 L897.1,1208.7 L899.1,1208.5 L901.1,1208.4 L903.1,1208.3 L905.1,1208.2 L907.1,1208.0 L909.1,1207.9 L911.1,1207.8 L913.1,1207.6 L915.1,1207.5 L917.1,1207.3 L919.1,1207.2 L921.1,1207.0 L923.1,1206.8 L925.1,1206.7 L927.1,1206.5 L929.1,1206.3 L931.1,1206.2 L933.1,1206.0 L935.1,1205.8 L937.1,1205.6 L939.1,1205.4 L941.1,1205.2 L943.1,1205.0 L945.1,1204.8 L947.1,1204.6 L949.1,1204.4 L951.1,1204.2 L953.1,1204.0 L955.1,1203.8 L957.1,1203.5 L959.1,1203.3 L961.1,1203.1 L963.1,1202.8 L965.1,1202.6 L967.1,1202.3 L969.1,1202.1 L971.1,1201.8 L973.1,1201.6 L975.1,1201.3 L977.1,1201.0 L979.1,1200.8 L981.1,1200.5 L983.1,1200.2 L985.1,1199.9 L987.1,1199.7 L989.1,1199.4 L991.1,1199.1 L993.1,1198.8 L995.1,1198.5 L997.1,1198.2 L999.1,1197.9 L1001.1,1197.6 L1003.1,1197.2 L1005.1,1196.9 L1007.1,1196.6 L1009.1,1196.3 L1011.1,1196.0 L1013.1,1195.6 L1015.1,1195.3 L1017.0,1195.0 L1019.0,1194.6 L1021.0,1194.3 L1023.0,1193.9 L1025.0,1193.6 L1027.0,1193.2 L1029.0,1192.9 L1031.0,1192.5 L1033.0,1192.2 L1035.0,1191.8 L1037.0,1191.4 L1039.0,1191.1 L1041.0,1190.7 L1043.0,1190.3 L1045.0,1190.0 L1047.0,1189.6 L1049.0,1189.2 L1051.0,1188.8 L1053.0,1188.5 L1055.0,1188.1 L1057.0,1187.7 L1059.0,1187.3 L1060.9,1186.9 L1062.9,1186.5 L1064.9,1186.1 L1066.9,1185.8 L1068.9,1185.4 L1070.9,1185.0 L1072.9,1184.6 L1074.9,1184.2 L1076.9,1183.8 L1078.9,1183.4 L1080.9,1183.0 L1082.9,1182.6 L1084.9,1182.2 L1086.9,1181.8 L1088.9,1181.4 L1090.9,1181.0 L1092.9,1180.6 L1094.9,1180.2 L1096.8,1179.8 L1098.8,1179.4 L1100.8,1179.0 L1102.8,1178.6 L1104.8,1178.2 L1106.8,1177.8 L1108.8,1177.4 L1110.8,1177.0 L1112.8,1176.6 L1114.8,1176.2 L1116.8,1175.8 L1118.8,1175.4 L1120.8,1175.0 L1122.8,1174.6 L1124.8,1174.2 L1126.8,1173.8 L1128.8,1173.4 L1130.8,1173.1 L1132.8,1172.7 L1134.8,1172.3 L1136.8,1171.9 L1138.8,1171.6 L1140.8,1171.2 L1142.8,1170.8 L1144.8,1170.5 L1146.8,1170.1 L1148.8,1169.7 L1150.8,1169.4 L1152.8,1169.0 L1154.8,1168.7 L1156.8,1168.3 L1158.8,1168.0 L1160.8,1167.6 L1162.8,1167.3 L1164.8,1167.0 L1166.8,1166.6 L1168.8,1166.3 L1170.8,1166.0 L1172.8,1165.7 L1174.8,1165.4 L1176.8,1165.0 L1178.8,1164.7 L1180.8,1164.4 L1182.8,1164.1 L1184.8,1163.8 L1186.8,1163.5 L1188.8,1163.2 L1190.8,1163.0 L1192.8,1162.7 L1194.8,1162.4 L1196.8,1162.1 L1198.8,1161.9 L1200.8,1161.6 L1202.8,1161.3 L1204.8,1161.1 L1206.8,1160.8 L1208.8,1160.6 L1210.8,1160.3 L1212.8,1160.1 L1214.8,1159.8 L1216.8,1159.6 L1218.8,1159.4 L1220.8,1159.1 L1222.8,1158.9 L1224.8,1158.7 L1226.8,1158.5 L1228.8,1158.3 L1230.8,1158.1 L1232.8,1157.8 L1234.8,1157.6 L1236.8,1157.4 L1238.8,1157.2 L1240.8,1157.0 L1242.8,1156.9 L1244.8,1156.7 L1246.8,1156.5 L1248.8,1156.3 L1250.9,1156.1 L1252.9,1155.9 L1254.9,1155.8 L1256.9,1155.6 L1258.9,1155.4 L1260.9,1155.3 L1262.9,1155.1 L1264.9,1154.9 L1266.9,1154.8 L1268.9,1154.6 L1270.9,1154.5 L1272.9,1154.3 L1274.9,1154.2 L1276.9,1154.0 L1278.9,1153.9 L1280.9,1153.7 L1282.9,1153.6 L1284.9,1153.4 L1286.9,1153.3 L1288.9,1153.1 L1290.9,1153.0 L1292.9,1152.8 L1294.9,1152.7 L1296.9,1152.6 L1298.9,1152.4 L1300.9,1152.3 L1302.9,1152.1 L1304.9,1152.0 L1306.9,1151.8 L1308.9,1151.7 L1310.9,1151.6 L1312.9,1151.4 L1314.9,1151.3 L1316.9,1151.1 L1318.9,1151.0 L1320.9,1150.8 L1322.9,1150.7 L1324.9,1150.5 L1326.9,1150.4 L1328.9,1150.2 L1330.9,1150.1 L1332.9,1149.9 L1334.9,1149.7 L1336.9,1149.6 L1338.9,1149.4 L1340.9,1149.2 L1342.9,1149.0 L1344.9,1148.8 L1346.9,1148.7 L1348.9,1148.5 L1350.9,1148.3 L1352.9,1148.1 L1354.9,1147.9 L1356.9,1147.6 L1358.9,1147.4 L1360.9,1147.2 L1362.9,1147.0 L1364.9,1146.7 L1366.9,1146.5 L1368.9,1146.2 L1370.9,1146.0 L1372.9,1145.7 L1374.9,1145.4 L1376.9,1145.1 L1378.8,1144.8 L1380.8,1144.5 L1382.8,1144.2 L1384.8,1143.8 L1386.8,1143.5 L1388.8,1143.2 L1390.8,1142.8 L1392.8,1142.4 L1394.8,1142.0 L1396.8,1141.6 L1398.8,1141.2 L1400.8,1140.8 L1402.8,1140.3 L1404.8,1139.8 L1406.8,1139.4 L1408.8,1138.9 L1410.8,1138.3 L1412.8,1137.8 L1414.8,1137.3 L1416.8,1136.7 L1418.8,1136.1 L1420.8,1135.5 L1422.8,1134.9 L1424.7,1134.2 L1426.7,1133.5 L1428.7,1132.9 L1430.7,1132.1 L1432.7,1131.4 L1434.7,1130.6 L1436.7,1129.8 L1438.7,1129.0 L1440.7,1128.2 L1442.7,1127.3 L1444.7,1126.4 L1446.7,1125.5 L1448.7,1124.6 L1450.7,1123.6 L1452.7,1122.6 L1454.7,1121.5 L1456.6,1120.5 L1458.6,1119.4 L1460.6,1118.2 L1462.6,1117.1 L1464.6,1115.9 L1466.6,1114.6 L1468.6,1113.4 L1470.6,1112.1 L1472.6,1110.7 L1474.6,1109.3 L1476.6,1107.9 L1478.6,1106.5 L1480.6,1105.0 L1482.6,1103.5 L1484.5,1101.9 L1486.5,1100.3 L1488.5,1098.7 L1490.5,1097.0 L1492.5,1095.3 L1494.5,1093.5 L1496.5,1091.7 L1498.5,1089.9 L1500.5,1088.0 L1502.5,1086.1 L1504.4,1084.2 L1506.4,1082.2 L1508.4,1080.1 L1510.4,1078.0 L1512.4,1075.9 L1514.4,1073.8 L1516.4,1071.6 L1518.4,1069.3 L1520.4,1067.0 L1522.4,1064.7 L1524.3,1062.3 L1526.3,1059.9 L1528.3,1057.5 L1530.3,1055.0 L1532.3,1052.5 L1534.3,1050.0 L1536.3,1047.4 L1538.3,1044.8 L1540.3,1042.1 L1542.2,1039.4 L1544.2,1036.7 L1546.2,1033.9 L1548.2,1031.1 L1550.2,1028.3 L1552.2,1025.5 L1554.2,1022.6 L1556.2,1019.7 L1558.2,1016.8 L1560.2,1013.8 L1562.2,1010.8 L1564.2,1007.8 L1566.2,1004.8 L1568.2,1001.8 L1570.2,998.7 L1572.2,995.7 L1574.2,992.6 L1576.2,989.5 L1578.2,986.4 L1580.2,983.3 L1582.2,980.2 L1584.3,977.1 L1586.3,974.0 L1588.3,970.8 L1590.3,967.7 L1592.3,964.6 L1594.4,961.5 L1596.4,958.5 L1598.4,955.4 L1600.4,952.3 L1602.5,949.3 L1604.5,946.3 L1606.6,943.3 L1608.6,940.3 L1610.6,937.4 L1612.7,934.5 L1614.7,931.6 L1616.7,928.8 L1618.8,926.0 L1620.8,923.2 L1622.9,920.5 L1624.9,917.9 L1627.0,915.3 L1629.0,912.7 L1631.0,910.2 L1633.1,907.8 L1635.1,905.4 L1637.2,903.1 L1639.2,900.9 L1641.2,898.7 L1643.3,896.7 L1645.3,894.7 L1647.3,892.7 L1649.3,890.9 L1651.4,889.2 L1653.4,887.5 L1655.4,885.9 L1657.4,884.5 L1659.4,883.1 L1661.4,881.8 L1663.4,880.6 L1665.4,879.5 L1667.4,878.6 L1669.3,877.7 L1671.3,876.9 L1673.3,876.3 L1675.2,875.7 L1677.2,875.3 L1679.2,874.9 L1681.1,874.7 L1683.0,874.6 L1685.0,874.6 L1686.9,874.7 L1688.8,874.9 L1690.8,875.2 L1692.7,875.7 L1694.6,876.3 L1696.6,876.9 L1698.5,877.7 L1700.5,878.6 L1702.4,879.7 L1704.4,880.8 L1706.3,882.0 L1708.3,883.3 L1710.2,884.8 L1712.2,886.3 L1714.2,887.9 L1716.1,889.7 L1718.1,891.5 L1720.1,893.4 L1722.1,895.4 L1724.1,897.4 L1726.1,899.6 L1728.1,901.8 L1730.1,904.1 L1732.1,906.4 L1734.1,908.9 L1736.1,911.4 L1738.1,913.9 L1740.1,916.5 L1742.1,919.1 L1744.1,921.8 L1746.2,924.5 L1748.2,927.3 L1750.2,930.1 L1752.2,933.0 L1754.3,935.8 L1756.3,938.7 L1758.4,941.7 L1760.4,944.6 L1762.4,947.6 L1764.5,950.6 L1766.5,953.6 L1768.6,956.6 L1770.6,959.6 L1772.7,962.6 L1774.7,965.6 L1776.8,968.7 L1778.8,971.7 L1780.8,974.7 L1782.9,977.7 L1784.9,980.7 L1787.0,983.7 L1789.0,986.7 L1791.1,989.6 L1793.1,992.6 L1795.1,995.5 L1797.2,998.4 L1799.2,1001.3 L1801.3,1004.2 L1803.3,1007.0 L1805.3,1009.8 L1807.3,1012.6 L1809.4,1015.4 L1811.4,1018.1 L1813.4,1020.8 L1815.4,1023.5 L1817.4,1026.1 L1819.5,1028.7 L1821.5,1031.3 L1823.5,1033.8 L1825.5,1036.3 L1827.5,1038.8 L1829.5,1041.2 L1831.5,1043.6 L1833.5,1045.9 L1835.5,1048.2 L1837.5,1050.5 L1839.5,1052.7 L1841.5,1054.9 L1843.5,1057.0 L1845.5,1059.1 L1847.5,1061.2 L1849.5,1063.2 L1851.4,1065.2 L1853.4,1067.1 L1855.4,1069.0 L1857.4,1070.9 L1859.4,1072.7 L1861.4,1074.4 L1863.4,1076.2 L1865.4,1077.8 L1867.4,1079.5 L1869.3,1081.1 L1871.3,1082.7 L1873.3,1084.2 L1875.3,1085.7 L1877.3,1087.1 L1879.3,1088.5 L1881.3,1089.9 L1883.3,1091.2 L1885.3,1092.5 L1887.2,1093.8 L1889.2,1095.0 L1891.2,1096.2 L1893.2,1097.3 L1895.2,1098.5 L1897.2,1099.5 L1899.2,1100.6 L1901.2,1101.6 L1903.2,1102.6 L1905.2,1103.6 L1907.2,1104.5 L1909.1,1105.4 L1911.1,1106.3 L1913.1,1107.1 L1915.1,1107.9 L1917.1,1108.7 L1919.1,1109.5 L1921.1,1110.2 L1923.1,1110.9 L1925.1,1111.6 L1927.1,1112.2 L1929.1,1112.9 L1931.1,1113.5 L1933.1,1114.1 L1935.1,1114.7 L1937.1,1115.2 L1939.1,1115.7 L1941.1,1116.3 L1943.1,1116.8 L1945.1,1117.2 L1947.1,1117.7 L1949.1,1118.1 L1951.1,1118.6 L1953.1,1119.0 L1955.1,1119.4 L1957.1,1119.7 L1959.1,1120.1 L1961.0,1120.5 L1963.0,1120.8 L1965.0,1121.1 L1967.0,1121.4 L1969.0,1121.7 L1971.0,1122.0 L1973.0,1122.3 L1975.0,1122.6 L1977.0,1122.8 L1979.0,1123.1 L1981.0,1123.3 L1983.0,1123.5 L1985.0,1123.8 L1987.0,1124.0 L1989.0,1124.2 L1991.0,1124.4 L1993.0,1124.6 L1995.0,1124.8 L1997.0,1124.9 L1999.0,1125.1 L2001.0,1125.3 L2003.0,1125.4 L2005.0,1125.6 L2007.0,1125.7 L2009.0,1125.9 L2011.0,1126.0 L2013.0,1126.1 L2015.0,1126.3 L2017.0,1126.4 L2019.0,1126.5 L2021.0,1126.6 L2023.0,1126.7 L2025.0,1126.8 L2027.0,1126.9 L2029.0,1127.0 L2031.0,1127.1 L2033.0,1127.2 L2035.0,1127.3 L2037.0,1127.4 L2039.0,1127.5 L2041.0,1127.6 L2043.0,1127.6 L2045.0,1127.7 L2047.0,1127.8 L2049.0,1127.9 L2051.0,1127.9 L2053.0,1128.0 L2055.0,1128.1 L2057.0,1128.1 L2059.0,1128.2 L2061.0,1128.2 L2063.0,1128.3 L2065.0,1128.4 L2067.0,1128.4 L2069.0,1128.5 L2071.0,1128.5 L2073.0,1128.6 L2075.0,1128.6 L2077.0,1128.7 L2079.0,1128.7 L2081.0,1128.8 L2083.0,1128.8 L2085.0,1128.9 L2087.0,1128.9 L2089.0,1129.0 L2091.0,1129.0 L2093.0,1129.0 L2095.0,1129.1 L2097.0,1129.1 L2099.0,1129.2 L2101.0,1129.2 L2103.0,1129.2 L2105.0,1129.3 L2107.0,1129.3 L2109.0,1129.3 L2111.0,1129.4 L2113.0,1129.4 L2115.0,1129.4 L2117.0,1129.5 L2119.0,1129.5 L2121.0,1129.5 L2123.0,1129.6 L2125.0,1129.6 L2127.0,1129.6 L2129.0,1129.7 L2131.0,1129.7 L2133.0,1129.7 L2135.0,1129.8 L2137.0,1129.8 L2139.0,1129.8 L2141.0,1129.8 L2143.0,1129.9 L2145.0,1129.9 L2147.0,1129.9 L2149.0,1129.9 L2151.0,1130.0 L2153.0,1130.0 L2155.0,1130.0 L2157.0,1130.0 L2159.0,1130.1 L2161.0,1130.1 L2163.0,1130.1 L2165.0,1130.1 L2167.0,1130.2 L2169.0,1130.2 L2171.0,1130.2 L2173.0,1130.2 L2175.0,1130.3 L2177.0,1130.3 L2179.0,1130.3 L2181.0,1130.3 L2183.0,1130.4 L2185.0,1130.4 L2187.0,1130.4 L2189.0,1130.4 L2191.0,1130.4 L2193.0,1130.5 L2195.0,1130.5 L2197.0,1130.5 L2199.0,1130.5 L2201.0,1130.6 L2203.0,1130.6 L2205.0,1130.6 L2207.0,1130.6 L2209.0,1130.6 L2211.0,1130.7 L2213.0,1130.7 L2215.0,1130.7 L2217.0,1130.7 L2219.0,1130.8 L2221.0,1130.8 L2223.0,1130.8 L2225.0,1130.8 L2227.0,1130.8 L2229.0,1130.9 L2231.0,1130.9 L2233.0,1130.9 L2235.0,1130.9 L2237.0,1130.9 L2239.0,1131.0 L2241.0,1131.0 L2243.0,1131.0 L2245.0,1131.0 L2247.0,1131.0 L2249.0,1131.1 L2251.0,1131.1 L2253.0,1131.1 L2255.0,1131.1 L2257.0,1131.1 L2259.0,1131.2 L2261.0,1131.2 L2263.0,1131.2 L2265.0,1131.2 L2267.0,1131.2 L2269.0,1131.2 L2271.0,1131.3 L2273.0,1131.3 L2275.0,1131.3 L2277.0,1131.3 L2279.0,1131.3 L2281.0,1131.3 L2283.0,1131.4 L2285.0,1131.4 L2287.0,1131.4 L2289.0,1131.4 L2291.0,1131.4 L2293.0,1131.4 L2295.0,1131.5 L2297.0,1131.5 L2299.0,1131.5 L2301.0,1131.5 L2303.0,1131.5 L2305.0,1131.5 L2307.0,1131.5 L2309.0,1131.6 L2311.0,1131.6 L2313.0,1131.6 L2315.0,1131.6 L2317.0,1131.6 L2319.0,1131.6 L2321.0,1131.6 L2323.0,1131.6 L2325.0,1131.7 L2327.0,1131.7 L2329.0,1131.7 L2331.0,1131.7 L2333.0,1131.7 L2335.0,1131.7 L2337.0,1131.7 L2339.0,1131.7 L2341.0,1131.7 L2343.0,1131.8 L2345.0,1131.8 L2347.0,1131.8 L2349.0,1131.8 L2351.0,1131.8 L2353.0,1131.8 L2355.0,1131.8 L2357.0,1131.8 L2359.0,1131.8 L2361.0,1131.9 L2363.0,1131.9 L2365.0,1131.9 L2367.0,1131.9 L2369.0,1131.9 L2371.0,1131.9 L2373.0,1131.9 L2375.0,1131.9 L2376.0,1131.9" stroke="#7030a0"/>
</g>
<path d="M68.4,1301.2 H2381.1" stroke="#8e8e8e" stroke-width="2.4" fill="none"/>
<path d="M69.6,1300 V1319.5" stroke="#8e8e8e" stroke-width="2.4"/>
<path d="M399.6,1300 V1319.5" stroke="#8e8e8e" stroke-width="2.4"/>
<path d="M729.7,1300 V1319.5" stroke="#8e8e8e" stroke-width="2.4"/>
<path d="M1059.7,1300 V1319.5" stroke="#8e8e8e" stroke-width="2.4"/>
<path d="M1389.8,1300 V1319.5" stroke="#8e8e8e" stroke-width="2.4"/>
<path d="M1719.8,1300 V1319.5" stroke="#8e8e8e" stroke-width="2.4"/>
<path d="M2049.8,1300 V1319.5" stroke="#8e8e8e" stroke-width="2.4"/>
<path d="M2379.9,1300 V1319.5" stroke="#8e8e8e" stroke-width="2.4"/>
<g font-family="'Liberation Sans', Arial, sans-serif" fill="#1e1e1e" stroke="#fff" stroke-width="1.1"><text transform="translate(25.39,1385.5) scale(1.093,1)" font-size="48.30">340</text>
<text transform="translate(355.43,1385.5) scale(1.093,1)" font-size="48.30">342</text>
<text transform="translate(685.47,1385.5) scale(1.093,1)" font-size="48.30">344</text>
<text transform="translate(1015.51,1385.5) scale(1.093,1)" font-size="48.30">346</text>
<text transform="translate(1345.55,1385.5) scale(1.093,1)" font-size="48.30">348</text>
<text transform="translate(1675.59,1385.5) scale(1.093,1)" font-size="48.30">350</text>
<text transform="translate(2005.63,1385.5) scale(1.093,1)" font-size="48.30">352</text>
<text transform="translate(2335.67,1385.5) scale(1.093,1)" font-size="48.30">354</text></g>
<g fill="none" stroke-linecap="round" stroke-linejoin="round"><path d="M1098.0,410.0 L520.5,293.3 M558.7,281.9 L520.5,293.3 L550.8,318.4" stroke="#00b0f0" stroke-width="5.5"/>
<path d="M954.0,862.0 L753.2,743.0 M792.8,744.9 L753.2,743.0 L771.1,775.2" stroke="#00b050" stroke-width="5.5"/>
<path d="M1692.7,866.7 L1937.4,632.2 M1899.5,641.9 L1937.4,632.2 L1928.6,666.4" stroke="#7030a0" stroke-width="4.8"/>
<path d="M1686.0,991.5 L1894.2,862.5 M1854.0,865.5 L1894.2,862.5 L1877.0,895.1" stroke="#ffff00" stroke-width="6.0"/></g>
<g font-family="'Liberation Serif', 'Times New Roman', serif" font-weight="bold" fill="#000"><text x="157.30" y="97.20" font-size="68" letter-spacing="1.46">(d) PAA50+CH</text>
<text x="176.00" y="302.40" font-size="68" letter-spacing="0.99">CH<tspan dx="5"> : 346.37</tspan></text>
<text x="1648.60" y="88.70" font-size="68" letter-spacing="1.69">PAA50-Ca : 31.00%</text>
<text x="1869.30" y="198.30" font-size="68" letter-spacing="0.91">CH<tspan dx="5"> : 69.00%</tspan></text>
<text x="952.00" y="219.40" font-size="68" letter-spacing="1.36">Ca2p3/2</text>
<text x="1583.00" y="653.70" font-size="68" letter-spacing="1.36">Ca2p1/2</text>
<text x="1951.00" y="612.00" font-size="68" letter-spacing="1.14">CH<tspan dx="5"> : 349.75</tspan></text>
<text x="156.70" y="727.00" font-size="68" letter-spacing="1.82">PAA50-Ca : 345.59</text>
<text x="1811.80" y="828.30" font-size="68" letter-spacing="1.67">PAA50-Ca : 349.67</text>
<text x="923.80" y="1471.00" font-size="66.5" letter-spacing="1.23">Binding energy (eV)</text></g>
</svg></body></html>
